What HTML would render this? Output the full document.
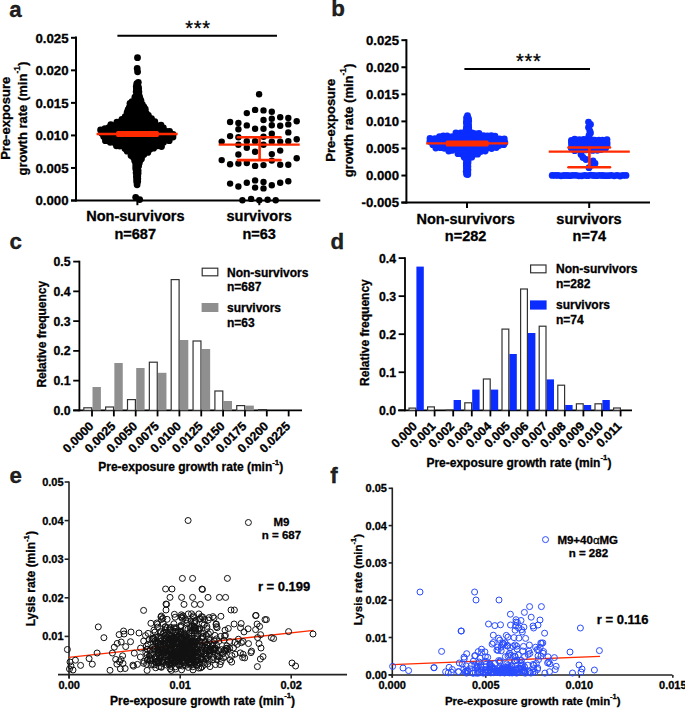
<!DOCTYPE html>
<html><head><meta charset="utf-8"><style>
html,body{margin:0;padding:0;background:#fff;}
svg{display:block;}
text{font-family:"Liberation Sans",sans-serif;font-weight:bold;stroke:currentColor;stroke-width:0.3px;}
</style></head><body>
<svg width="685" height="708" viewBox="0 0 685 708">
<text x="9.2" y="16.5" font-size="22.3" text-anchor="start" fill="#222" stroke="#222" stroke-width="0.35">a</text>
<text x="331.2" y="16.4" font-size="22.3" text-anchor="start" fill="#222" stroke="#222" stroke-width="0.35">b</text>
<text x="9.4" y="249.4" font-size="22.3" text-anchor="start" fill="#222" stroke="#222" stroke-width="0.35">c</text>
<text x="330.6" y="249.2" font-size="22.3" text-anchor="start" fill="#222" stroke="#222" stroke-width="0.35">d</text>
<text x="9.4" y="483.1" font-size="22.3" text-anchor="start" fill="#222" stroke="#222" stroke-width="0.35">e</text>
<text x="330.2" y="483" font-size="22.3" text-anchor="start" fill="#222" stroke="#222" stroke-width="0.35">f</text>
<line x1="76" y1="36.5" x2="76" y2="201.5" stroke="#000" stroke-width="2" stroke-linecap="butt"/>
<line x1="71" y1="200.5" x2="76" y2="200.5" stroke="#000" stroke-width="2" stroke-linecap="butt"/>
<text x="68.6" y="205.25" font-size="13.25" text-anchor="end" fill="#000" >0.000</text>
<line x1="71" y1="167.96" x2="76" y2="167.96" stroke="#000" stroke-width="2" stroke-linecap="butt"/>
<text x="68.6" y="172.71" font-size="13.25" text-anchor="end" fill="#000" >0.005</text>
<line x1="71" y1="135.42" x2="76" y2="135.42" stroke="#000" stroke-width="2" stroke-linecap="butt"/>
<text x="68.6" y="140.17" font-size="13.25" text-anchor="end" fill="#000" >0.010</text>
<line x1="71" y1="102.88" x2="76" y2="102.88" stroke="#000" stroke-width="2" stroke-linecap="butt"/>
<text x="68.6" y="107.63" font-size="13.25" text-anchor="end" fill="#000" >0.015</text>
<line x1="71" y1="70.34" x2="76" y2="70.34" stroke="#000" stroke-width="2" stroke-linecap="butt"/>
<text x="68.6" y="75.09" font-size="13.25" text-anchor="end" fill="#000" >0.020</text>
<line x1="71" y1="37.8" x2="76" y2="37.8" stroke="#000" stroke-width="2" stroke-linecap="butt"/>
<text x="68.6" y="42.55" font-size="13.25" text-anchor="end" fill="#000" >0.025</text>
<line x1="71" y1="200.6" x2="320.3" y2="200.6" stroke="#000" stroke-width="2" stroke-linecap="butt"/>
<line x1="137.4" y1="200.6" x2="137.4" y2="205.2" stroke="#000" stroke-width="2" stroke-linecap="butt"/>
<line x1="259.3" y1="200.6" x2="259.3" y2="205.2" stroke="#000" stroke-width="2" stroke-linecap="butt"/>
<text x="135.4" y="221.4" font-size="14.5" text-anchor="middle" fill="#000" >Non-survivors</text>
<text x="135.2" y="238.6" font-size="14.5" text-anchor="middle" fill="#000" >n=687</text>
<text x="259.2" y="221.4" font-size="14.5" text-anchor="middle" fill="#000" >survivors</text>
<text x="259.2" y="238.6" font-size="14.5" text-anchor="middle" fill="#000" >n=63</text>
<text transform="translate(9.8,118.3) rotate(-90)" font-size="13" text-anchor="middle" >Pre-exposure</text>
<text transform="translate(27.1,118.6) rotate(-90)" font-size="13" text-anchor="middle" >growth rate (min<tspan font-size="0.65em" dy="-0.8em">-1</tspan><tspan dy="0.52em">)</tspan></text>
<line x1="117.4" y1="35.8" x2="277" y2="35.8" stroke="#000" stroke-width="2" stroke-linecap="butt"/>
<text x="198" y="34.6" font-size="20" letter-spacing="0.7" text-anchor="middle" style="font-weight:normal">***</text>
<g fill="#000"><circle cx="136.8" cy="83.6" r="3.4"/><circle cx="138.3" cy="82.3" r="3.4"/><circle cx="136.3" cy="86.5" r="3.4"/><circle cx="138.2" cy="86.4" r="3.4"/><circle cx="136.4" cy="88.8" r="3.4"/><circle cx="138.6" cy="88.4" r="3.4"/><circle cx="136.2" cy="91.7" r="3.4"/><circle cx="138.9" cy="91.9" r="3.4"/><circle cx="136.6" cy="95.4" r="3.4"/><circle cx="139.2" cy="95.7" r="3.4"/><circle cx="134.9" cy="97.2" r="3.4"/><circle cx="137.7" cy="97.0" r="3.4"/><circle cx="139.8" cy="97.9" r="3.4"/><circle cx="132.0" cy="101.6" r="3.4"/><circle cx="135.2" cy="100.9" r="3.4"/><circle cx="138.1" cy="100.4" r="3.4"/><circle cx="140.9" cy="100.3" r="3.4"/><circle cx="130.0" cy="103.3" r="3.4"/><circle cx="133.9" cy="102.9" r="3.4"/><circle cx="138.9" cy="103.2" r="3.4"/><circle cx="142.3" cy="104.5" r="3.4"/><circle cx="129.3" cy="107.5" r="3.4"/><circle cx="133.2" cy="107.3" r="3.4"/><circle cx="135.9" cy="106.9" r="3.4"/><circle cx="140.3" cy="107.5" r="3.4"/><circle cx="143.9" cy="107.0" r="3.4"/><circle cx="128.1" cy="109.6" r="3.4"/><circle cx="131.3" cy="109.2" r="3.4"/><circle cx="135.6" cy="109.6" r="3.4"/><circle cx="139.3" cy="110.0" r="3.4"/><circle cx="142.0" cy="110.1" r="3.4"/><circle cx="145.3" cy="109.2" r="3.4"/><circle cx="127.1" cy="112.4" r="3.4"/><circle cx="130.8" cy="112.1" r="3.4"/><circle cx="135.7" cy="112.3" r="3.4"/><circle cx="139.0" cy="112.5" r="3.4"/><circle cx="143.2" cy="113.1" r="3.4"/><circle cx="146.3" cy="113.5" r="3.4"/><circle cx="125.2" cy="116.6" r="3.4"/><circle cx="129.1" cy="115.2" r="3.4"/><circle cx="132.3" cy="116.6" r="3.4"/><circle cx="136.8" cy="115.3" r="3.4"/><circle cx="141.3" cy="116.1" r="3.4"/><circle cx="144.6" cy="115.6" r="3.4"/><circle cx="148.4" cy="115.4" r="3.4"/><circle cx="121.9" cy="119.5" r="3.4"/><circle cx="126.2" cy="118.9" r="3.4"/><circle cx="130.1" cy="119.3" r="3.4"/><circle cx="133.8" cy="118.6" r="3.4"/><circle cx="138.0" cy="118.2" r="3.4"/><circle cx="143.8" cy="119.1" r="3.4"/><circle cx="147.0" cy="118.9" r="3.4"/><circle cx="151.5" cy="118.6" r="3.4"/><circle cx="116.9" cy="122.2" r="3.4"/><circle cx="120.4" cy="121.9" r="3.4"/><circle cx="125.0" cy="122.6" r="3.4"/><circle cx="127.7" cy="122.6" r="3.4"/><circle cx="131.2" cy="122.3" r="3.4"/><circle cx="136.5" cy="121.2" r="3.4"/><circle cx="139.6" cy="122.4" r="3.4"/><circle cx="142.6" cy="122.1" r="3.4"/><circle cx="147.8" cy="121.9" r="3.4"/><circle cx="151.5" cy="121.3" r="3.4"/><circle cx="154.8" cy="121.6" r="3.4"/><circle cx="110.8" cy="124.6" r="3.4"/><circle cx="115.9" cy="125.0" r="3.4"/><circle cx="118.9" cy="124.4" r="3.4"/><circle cx="124.2" cy="124.7" r="3.4"/><circle cx="128.4" cy="124.9" r="3.4"/><circle cx="131.8" cy="125.6" r="3.4"/><circle cx="136.3" cy="125.0" r="3.4"/><circle cx="139.9" cy="125.5" r="3.4"/><circle cx="144.1" cy="125.6" r="3.4"/><circle cx="147.6" cy="124.7" r="3.4"/><circle cx="152.6" cy="125.7" r="3.4"/><circle cx="156.3" cy="125.4" r="3.4"/><circle cx="161.0" cy="125.2" r="3.4"/><circle cx="105.0" cy="128.7" r="3.4"/><circle cx="108.8" cy="127.7" r="3.4"/><circle cx="112.8" cy="127.0" r="3.4"/><circle cx="117.0" cy="128.6" r="3.4"/><circle cx="122.3" cy="127.1" r="3.4"/><circle cx="126.0" cy="127.8" r="3.4"/><circle cx="130.1" cy="128.1" r="3.4"/><circle cx="133.8" cy="128.7" r="3.4"/><circle cx="138.2" cy="128.1" r="3.4"/><circle cx="142.7" cy="127.3" r="3.4"/><circle cx="145.8" cy="127.7" r="3.4"/><circle cx="151.3" cy="128.4" r="3.4"/><circle cx="155.4" cy="127.1" r="3.4"/><circle cx="159.9" cy="128.4" r="3.4"/><circle cx="163.4" cy="127.9" r="3.4"/><circle cx="100.6" cy="130.0" r="3.4"/><circle cx="103.7" cy="130.0" r="3.4"/><circle cx="108.1" cy="130.4" r="3.4"/><circle cx="112.1" cy="131.0" r="3.4"/><circle cx="115.9" cy="131.0" r="3.4"/><circle cx="120.2" cy="131.2" r="3.4"/><circle cx="124.0" cy="130.5" r="3.4"/><circle cx="129.8" cy="130.9" r="3.4"/><circle cx="133.6" cy="131.1" r="3.4"/><circle cx="137.3" cy="130.3" r="3.4"/><circle cx="141.3" cy="130.0" r="3.4"/><circle cx="145.8" cy="131.7" r="3.4"/><circle cx="150.0" cy="130.0" r="3.4"/><circle cx="153.1" cy="130.5" r="3.4"/><circle cx="156.8" cy="131.1" r="3.4"/><circle cx="162.1" cy="130.5" r="3.4"/><circle cx="166.3" cy="131.4" r="3.4"/><circle cx="169.6" cy="131.3" r="3.4"/><circle cx="101.7" cy="133.3" r="3.4"/><circle cx="105.7" cy="134.1" r="3.4"/><circle cx="109.7" cy="133.1" r="3.4"/><circle cx="113.8" cy="134.1" r="3.4"/><circle cx="118.1" cy="134.4" r="3.4"/><circle cx="121.2" cy="134.2" r="3.4"/><circle cx="126.1" cy="134.5" r="3.4"/><circle cx="128.8" cy="133.0" r="3.4"/><circle cx="133.7" cy="133.3" r="3.4"/><circle cx="137.5" cy="134.6" r="3.4"/><circle cx="141.2" cy="133.4" r="3.4"/><circle cx="145.3" cy="134.1" r="3.4"/><circle cx="148.6" cy="133.6" r="3.4"/><circle cx="152.7" cy="134.1" r="3.4"/><circle cx="157.9" cy="133.6" r="3.4"/><circle cx="161.1" cy="133.9" r="3.4"/><circle cx="164.8" cy="133.4" r="3.4"/><circle cx="169.0" cy="133.8" r="3.4"/><circle cx="173.1" cy="134.3" r="3.4"/><circle cx="103.7" cy="136.5" r="3.4"/><circle cx="106.9" cy="137.3" r="3.4"/><circle cx="111.1" cy="136.2" r="3.4"/><circle cx="115.2" cy="136.1" r="3.4"/><circle cx="120.7" cy="136.4" r="3.4"/><circle cx="123.6" cy="137.4" r="3.4"/><circle cx="128.3" cy="136.3" r="3.4"/><circle cx="132.0" cy="137.5" r="3.4"/><circle cx="136.0" cy="137.2" r="3.4"/><circle cx="139.6" cy="137.2" r="3.4"/><circle cx="144.9" cy="137.4" r="3.4"/><circle cx="148.7" cy="136.6" r="3.4"/><circle cx="151.7" cy="136.9" r="3.4"/><circle cx="157.0" cy="136.3" r="3.4"/><circle cx="160.2" cy="136.9" r="3.4"/><circle cx="165.2" cy="137.6" r="3.4"/><circle cx="168.1" cy="136.3" r="3.4"/><circle cx="173.0" cy="137.1" r="3.4"/><circle cx="105.4" cy="140.7" r="3.4"/><circle cx="110.1" cy="140.5" r="3.4"/><circle cx="113.8" cy="139.7" r="3.4"/><circle cx="117.6" cy="139.3" r="3.4"/><circle cx="121.8" cy="140.3" r="3.4"/><circle cx="125.7" cy="139.7" r="3.4"/><circle cx="129.1" cy="139.7" r="3.4"/><circle cx="132.5" cy="140.5" r="3.4"/><circle cx="137.4" cy="139.6" r="3.4"/><circle cx="141.4" cy="140.2" r="3.4"/><circle cx="145.1" cy="140.4" r="3.4"/><circle cx="150.1" cy="139.6" r="3.4"/><circle cx="152.7" cy="140.3" r="3.4"/><circle cx="158.2" cy="139.2" r="3.4"/><circle cx="161.7" cy="140.4" r="3.4"/><circle cx="166.1" cy="139.2" r="3.4"/><circle cx="169.2" cy="140.7" r="3.4"/><circle cx="110.2" cy="142.3" r="3.4"/><circle cx="114.6" cy="142.7" r="3.4"/><circle cx="119.1" cy="142.3" r="3.4"/><circle cx="123.5" cy="142.3" r="3.4"/><circle cx="127.3" cy="142.1" r="3.4"/><circle cx="130.9" cy="142.0" r="3.4"/><circle cx="134.7" cy="142.5" r="3.4"/><circle cx="139.5" cy="142.8" r="3.4"/><circle cx="142.5" cy="143.7" r="3.4"/><circle cx="148.1" cy="143.6" r="3.4"/><circle cx="151.0" cy="142.6" r="3.4"/><circle cx="155.1" cy="142.2" r="3.4"/><circle cx="158.8" cy="142.8" r="3.4"/><circle cx="163.6" cy="142.3" r="3.4"/><circle cx="116.4" cy="145.8" r="3.4"/><circle cx="119.8" cy="146.1" r="3.4"/><circle cx="124.1" cy="145.9" r="3.4"/><circle cx="128.2" cy="145.9" r="3.4"/><circle cx="133.0" cy="145.9" r="3.4"/><circle cx="136.6" cy="146.4" r="3.4"/><circle cx="141.6" cy="145.3" r="3.4"/><circle cx="144.4" cy="145.1" r="3.4"/><circle cx="150.0" cy="146.6" r="3.4"/><circle cx="152.8" cy="146.7" r="3.4"/><circle cx="156.9" cy="145.9" r="3.4"/><circle cx="161.5" cy="146.6" r="3.4"/><circle cx="124.9" cy="148.5" r="3.4"/><circle cx="129.3" cy="148.1" r="3.4"/><circle cx="132.7" cy="148.8" r="3.4"/><circle cx="138.0" cy="149.3" r="3.4"/><circle cx="142.0" cy="149.3" r="3.4"/><circle cx="145.9" cy="149.5" r="3.4"/><circle cx="149.9" cy="149.3" r="3.4"/><circle cx="153.6" cy="148.2" r="3.4"/><circle cx="127.2" cy="151.2" r="3.4"/><circle cx="132.0" cy="152.0" r="3.4"/><circle cx="135.1" cy="152.6" r="3.4"/><circle cx="138.9" cy="151.9" r="3.4"/><circle cx="142.9" cy="152.7" r="3.4"/><circle cx="147.8" cy="152.4" r="3.4"/><circle cx="131.0" cy="155.4" r="3.4"/><circle cx="134.6" cy="155.1" r="3.4"/><circle cx="138.3" cy="154.7" r="3.4"/><circle cx="140.5" cy="155.2" r="3.4"/><circle cx="143.9" cy="154.5" r="3.4"/><circle cx="133.3" cy="157.3" r="3.4"/><circle cx="136.1" cy="158.3" r="3.4"/><circle cx="138.1" cy="158.3" r="3.4"/><circle cx="141.5" cy="158.7" r="3.4"/><circle cx="134.7" cy="160.7" r="3.4"/><circle cx="137.8" cy="160.9" r="3.4"/><circle cx="140.3" cy="160.1" r="3.4"/><circle cx="135.7" cy="163.9" r="3.4"/><circle cx="139.3" cy="163.0" r="3.4"/><circle cx="135.7" cy="167.1" r="3.4"/><circle cx="138.6" cy="166.1" r="3.4"/><circle cx="135.9" cy="169.3" r="3.4"/><circle cx="138.1" cy="170.5" r="3.4"/><circle cx="136.1" cy="172.8" r="3.4"/><circle cx="138.1" cy="173.2" r="3.4"/><circle cx="136.4" cy="176.4" r="3.4"/><circle cx="137.8" cy="176.1" r="3.4"/><circle cx="136.7" cy="179.2" r="3.4"/><circle cx="137.8" cy="178.7" r="3.4"/><circle cx="136.7" cy="181.7" r="3.4"/><circle cx="137.7" cy="181.6" r="3.4"/><circle cx="137.1" cy="184.8" r="3.4"/><circle cx="137.5" cy="57.7" r="3.4"/><circle cx="137.2" cy="68.4" r="3.4"/><circle cx="137.6" cy="71.8" r="3.4"/><circle cx="135.7" cy="197.3" r="3.4"/><circle cx="139.7" cy="199.6" r="3.4"/></g>
<line x1="96.6" y1="134" x2="177.6" y2="134" stroke="#ff2a00" stroke-width="2.4" stroke-linecap="butt"/>
<rect x="116.2" y="130.95" width="42.6" height="6.1" rx="1.5" fill="#ff2a00"/>
<g fill="#000"><circle cx="259.1" cy="94.2" r="3.2"/><circle cx="246.8" cy="113.1" r="3.2"/><circle cx="255.1" cy="109.9" r="3.2"/><circle cx="263.5" cy="110.4" r="3.2"/><circle cx="271.8" cy="111.8" r="3.2"/><circle cx="230.1" cy="122" r="3.2"/><circle cx="238.4" cy="122.9" r="3.2"/><circle cx="246.8" cy="125.4" r="3.2"/><circle cx="263.5" cy="120" r="3.2"/><circle cx="271.8" cy="118.8" r="3.2"/><circle cx="280.2" cy="117.2" r="3.2"/><circle cx="288.3" cy="118" r="3.2"/><circle cx="296.7" cy="121.2" r="3.2"/><circle cx="238.4" cy="129.2" r="3.2"/><circle cx="255.1" cy="128.7" r="3.2"/><circle cx="263.5" cy="128.7" r="3.2"/><circle cx="271.8" cy="125.2" r="3.2"/><circle cx="280.2" cy="125.7" r="3.2"/><circle cx="288.3" cy="124.4" r="3.2"/><circle cx="230.1" cy="136.1" r="3.2"/><circle cx="238.4" cy="137.3" r="3.2"/><circle cx="263.5" cy="136.8" r="3.2"/><circle cx="271.8" cy="133.7" r="3.2"/><circle cx="288.3" cy="132.4" r="3.2"/><circle cx="221.7" cy="141.6" r="3.2"/><circle cx="246.8" cy="141.3" r="3.2"/><circle cx="255.1" cy="141.3" r="3.2"/><circle cx="271.8" cy="141.6" r="3.2"/><circle cx="280.2" cy="141.6" r="3.2"/><circle cx="288.3" cy="141.3" r="3.2"/><circle cx="296.7" cy="139.2" r="3.2"/><circle cx="238.4" cy="144.8" r="3.2"/><circle cx="263.5" cy="144.8" r="3.2"/><circle cx="246.8" cy="147.7" r="3.2"/><circle cx="255.1" cy="151.7" r="3.2"/><circle cx="280.2" cy="150.6" r="3.2"/><circle cx="238.4" cy="154.5" r="3.2"/><circle cx="271.8" cy="154.1" r="3.2"/><circle cx="221.7" cy="160.1" r="3.2"/><circle cx="296.7" cy="158.2" r="3.2"/><circle cx="271.8" cy="160.6" r="3.2"/><circle cx="230.1" cy="164.3" r="3.2"/><circle cx="238.4" cy="163.5" r="3.2"/><circle cx="246.8" cy="163" r="3.2"/><circle cx="255.1" cy="165.9" r="3.2"/><circle cx="263.5" cy="165.1" r="3.2"/><circle cx="280.2" cy="164.8" r="3.2"/><circle cx="288.3" cy="164.8" r="3.2"/><circle cx="230.1" cy="183.6" r="3.2"/><circle cx="238.4" cy="186.5" r="3.2"/><circle cx="246.8" cy="182.8" r="3.2"/><circle cx="255.1" cy="180.4" r="3.2"/><circle cx="263.5" cy="182" r="3.2"/><circle cx="255.1" cy="187.6" r="3.2"/><circle cx="263.5" cy="188.4" r="3.2"/><circle cx="271.8" cy="185.2" r="3.2"/><circle cx="280.2" cy="182.8" r="3.2"/><circle cx="288.3" cy="181.2" r="3.2"/><circle cx="242.4" cy="200.3" r="3.2"/><circle cx="251.1" cy="198.9" r="3.2"/><circle cx="259.3" cy="200.3" r="3.2"/><circle cx="267.6" cy="199.7" r="3.2"/><circle cx="275.7" cy="200.3" r="3.2"/></g>
<line x1="218.7" y1="144.6" x2="299.7" y2="144.6" stroke="#ff2a00" stroke-width="2.2" stroke-linecap="butt"/>
<line x1="259.6" y1="137.3" x2="259.6" y2="160.1" stroke="#ff2a00" stroke-width="2.6" stroke-linecap="butt"/>
<line x1="237.9" y1="137.3" x2="280.5" y2="137.3" stroke="#ff2a00" stroke-width="2.6" stroke-linecap="round"/>
<line x1="237.9" y1="160.1" x2="280.5" y2="160.1" stroke="#ff2a00" stroke-width="2.6" stroke-linecap="round"/>
<line x1="406.4" y1="39.2" x2="406.4" y2="203.6" stroke="#000" stroke-width="2" stroke-linecap="butt"/>
<line x1="401.4" y1="202.6" x2="406.4" y2="202.6" stroke="#000" stroke-width="2" stroke-linecap="butt"/>
<text x="399" y="207.35" font-size="13.2" text-anchor="end" fill="#000" >-0.005</text>
<line x1="401.4" y1="175.53" x2="406.4" y2="175.53" stroke="#000" stroke-width="2" stroke-linecap="butt"/>
<text x="399" y="180.28" font-size="13.2" text-anchor="end" fill="#000" >0.000</text>
<line x1="401.4" y1="148.46" x2="406.4" y2="148.46" stroke="#000" stroke-width="2" stroke-linecap="butt"/>
<text x="399" y="153.21" font-size="13.2" text-anchor="end" fill="#000" >0.005</text>
<line x1="401.4" y1="121.39" x2="406.4" y2="121.39" stroke="#000" stroke-width="2" stroke-linecap="butt"/>
<text x="399" y="126.14" font-size="13.2" text-anchor="end" fill="#000" >0.010</text>
<line x1="401.4" y1="94.32" x2="406.4" y2="94.32" stroke="#000" stroke-width="2" stroke-linecap="butt"/>
<text x="399" y="99.07" font-size="13.2" text-anchor="end" fill="#000" >0.015</text>
<line x1="401.4" y1="67.25" x2="406.4" y2="67.25" stroke="#000" stroke-width="2" stroke-linecap="butt"/>
<text x="399" y="72" font-size="13.2" text-anchor="end" fill="#000" >0.020</text>
<line x1="401.4" y1="40.18" x2="406.4" y2="40.18" stroke="#000" stroke-width="2" stroke-linecap="butt"/>
<text x="399" y="44.93" font-size="13.2" text-anchor="end" fill="#000" >0.025</text>
<line x1="401.4" y1="202.6" x2="650" y2="202.6" stroke="#000" stroke-width="2" stroke-linecap="butt"/>
<line x1="467" y1="202.6" x2="467" y2="208" stroke="#000" stroke-width="2" stroke-linecap="butt"/>
<line x1="589.2" y1="202.6" x2="589.2" y2="208" stroke="#000" stroke-width="2" stroke-linecap="butt"/>
<text x="465.6" y="223.6" font-size="14.5" text-anchor="middle" fill="#000" >Non-survivors</text>
<text x="465.6" y="240.6" font-size="14.5" text-anchor="middle" fill="#000" >n=282</text>
<text x="589" y="223.6" font-size="14.5" text-anchor="middle" fill="#000" >survivors</text>
<text x="589.3" y="240.5" font-size="14.5" text-anchor="middle" fill="#000" >n=74</text>
<text transform="translate(335.4,120.2) rotate(-90)" font-size="13" text-anchor="middle" >Pre-exposure</text>
<text transform="translate(352.6,120.5) rotate(-90)" font-size="13" text-anchor="middle" >growth rate (min<tspan font-size="0.65em" dy="-0.8em">-1</tspan><tspan dy="0.52em">)</tspan></text>
<line x1="464.4" y1="69" x2="590" y2="69" stroke="#000" stroke-width="2" stroke-linecap="butt"/>
<text x="528.8" y="67.6" font-size="20" letter-spacing="0.7" text-anchor="middle" style="font-weight:normal">***</text>
<g fill="#0a2cff"><circle cx="466.5" cy="118.0" r="3.4"/><circle cx="468.5" cy="118.6" r="3.4"/><circle cx="466.4" cy="121.7" r="3.4"/><circle cx="468.7" cy="120.9" r="3.4"/><circle cx="466.5" cy="123.2" r="3.4"/><circle cx="468.6" cy="124.7" r="3.4"/><circle cx="466.4" cy="127.1" r="3.4"/><circle cx="468.7" cy="127.4" r="3.4"/><circle cx="466.1" cy="129.9" r="3.4"/><circle cx="468.8" cy="129.7" r="3.4"/><circle cx="455.9" cy="132.9" r="3.4"/><circle cx="460.7" cy="132.8" r="3.4"/><circle cx="463.6" cy="132.8" r="3.4"/><circle cx="467.6" cy="133.8" r="3.4"/><circle cx="472.0" cy="132.8" r="3.4"/><circle cx="474.8" cy="133.7" r="3.4"/><circle cx="479.0" cy="133.4" r="3.4"/><circle cx="439.5" cy="136.7" r="3.4"/><circle cx="443.3" cy="136.0" r="3.4"/><circle cx="447.1" cy="135.9" r="3.4"/><circle cx="452.1" cy="136.6" r="3.4"/><circle cx="455.5" cy="136.5" r="3.4"/><circle cx="459.4" cy="135.8" r="3.4"/><circle cx="463.5" cy="135.5" r="3.4"/><circle cx="467.0" cy="136.4" r="3.4"/><circle cx="471.8" cy="135.2" r="3.4"/><circle cx="475.7" cy="136.6" r="3.4"/><circle cx="479.1" cy="135.3" r="3.4"/><circle cx="483.5" cy="135.6" r="3.4"/><circle cx="487.4" cy="135.8" r="3.4"/><circle cx="491.3" cy="135.6" r="3.4"/><circle cx="495.0" cy="136.1" r="3.4"/><circle cx="430.0" cy="138.5" r="3.4"/><circle cx="434.9" cy="138.7" r="3.4"/><circle cx="437.9" cy="138.6" r="3.4"/><circle cx="441.6" cy="138.9" r="3.4"/><circle cx="447.0" cy="139.4" r="3.4"/><circle cx="450.1" cy="138.4" r="3.4"/><circle cx="454.5" cy="139.5" r="3.4"/><circle cx="458.9" cy="139.8" r="3.4"/><circle cx="463.4" cy="139.3" r="3.4"/><circle cx="467.7" cy="139.5" r="3.4"/><circle cx="471.1" cy="138.6" r="3.4"/><circle cx="475.4" cy="139.0" r="3.4"/><circle cx="479.0" cy="138.9" r="3.4"/><circle cx="484.0" cy="138.4" r="3.4"/><circle cx="487.3" cy="138.5" r="3.4"/><circle cx="491.7" cy="139.9" r="3.4"/><circle cx="495.3" cy="138.5" r="3.4"/><circle cx="499.7" cy="139.0" r="3.4"/><circle cx="504.3" cy="139.0" r="3.4"/><circle cx="429.9" cy="141.6" r="3.4"/><circle cx="434.7" cy="141.5" r="3.4"/><circle cx="438.5" cy="141.9" r="3.4"/><circle cx="442.3" cy="142.6" r="3.4"/><circle cx="446.0" cy="142.8" r="3.4"/><circle cx="451.5" cy="142.3" r="3.4"/><circle cx="454.2" cy="142.3" r="3.4"/><circle cx="459.3" cy="142.5" r="3.4"/><circle cx="462.8" cy="142.9" r="3.4"/><circle cx="468.2" cy="141.3" r="3.4"/><circle cx="471.3" cy="141.2" r="3.4"/><circle cx="476.4" cy="142.8" r="3.4"/><circle cx="480.8" cy="142.2" r="3.4"/><circle cx="484.4" cy="142.4" r="3.4"/><circle cx="488.4" cy="142.9" r="3.4"/><circle cx="492.7" cy="141.7" r="3.4"/><circle cx="496.6" cy="141.2" r="3.4"/><circle cx="501.2" cy="142.4" r="3.4"/><circle cx="504.9" cy="142.7" r="3.4"/><circle cx="432.8" cy="144.7" r="3.4"/><circle cx="436.1" cy="144.4" r="3.4"/><circle cx="440.5" cy="144.7" r="3.4"/><circle cx="445.1" cy="145.8" r="3.4"/><circle cx="449.0" cy="145.8" r="3.4"/><circle cx="453.9" cy="145.7" r="3.4"/><circle cx="457.6" cy="144.1" r="3.4"/><circle cx="462.5" cy="144.6" r="3.4"/><circle cx="465.5" cy="145.6" r="3.4"/><circle cx="470.6" cy="144.5" r="3.4"/><circle cx="474.1" cy="145.8" r="3.4"/><circle cx="478.2" cy="145.4" r="3.4"/><circle cx="482.2" cy="145.6" r="3.4"/><circle cx="486.3" cy="145.1" r="3.4"/><circle cx="490.3" cy="145.1" r="3.4"/><circle cx="496.0" cy="144.3" r="3.4"/><circle cx="499.1" cy="145.5" r="3.4"/><circle cx="503.7" cy="144.7" r="3.4"/><circle cx="435.8" cy="148.0" r="3.4"/><circle cx="440.5" cy="147.7" r="3.4"/><circle cx="444.3" cy="148.3" r="3.4"/><circle cx="448.3" cy="147.8" r="3.4"/><circle cx="452.3" cy="148.4" r="3.4"/><circle cx="455.7" cy="147.2" r="3.4"/><circle cx="460.7" cy="148.4" r="3.4"/><circle cx="463.4" cy="148.5" r="3.4"/><circle cx="467.5" cy="148.0" r="3.4"/><circle cx="472.6" cy="147.9" r="3.4"/><circle cx="475.6" cy="147.7" r="3.4"/><circle cx="479.2" cy="147.5" r="3.4"/><circle cx="483.6" cy="147.5" r="3.4"/><circle cx="487.3" cy="148.0" r="3.4"/><circle cx="491.6" cy="148.5" r="3.4"/><circle cx="496.3" cy="147.6" r="3.4"/><circle cx="448.7" cy="151.1" r="3.4"/><circle cx="451.9" cy="150.4" r="3.4"/><circle cx="457.5" cy="151.0" r="3.4"/><circle cx="461.4" cy="150.3" r="3.4"/><circle cx="465.0" cy="151.7" r="3.4"/><circle cx="469.6" cy="150.2" r="3.4"/><circle cx="473.0" cy="150.8" r="3.4"/><circle cx="477.5" cy="150.3" r="3.4"/><circle cx="480.7" cy="151.6" r="3.4"/><circle cx="485.2" cy="151.0" r="3.4"/><circle cx="458.0" cy="153.7" r="3.4"/><circle cx="461.0" cy="153.8" r="3.4"/><circle cx="465.1" cy="153.3" r="3.4"/><circle cx="469.9" cy="154.9" r="3.4"/><circle cx="473.9" cy="154.3" r="3.4"/><circle cx="477.6" cy="154.2" r="3.4"/><circle cx="464.2" cy="157.2" r="3.4"/><circle cx="468.5" cy="157.1" r="3.4"/><circle cx="471.7" cy="157.2" r="3.4"/><circle cx="466.3" cy="159.4" r="3.4"/><circle cx="468.1" cy="160.6" r="3.4"/><circle cx="466.3" cy="163.1" r="3.4"/><circle cx="468.0" cy="162.9" r="3.4"/><circle cx="466.3" cy="165.8" r="3.4"/><circle cx="467.9" cy="166.4" r="3.4"/><circle cx="466.4" cy="168.3" r="3.4"/><circle cx="468.0" cy="169.8" r="3.4"/><circle cx="466.2" cy="171.6" r="3.4"/><circle cx="467.8" cy="172.7" r="3.4"/><circle cx="466.6" cy="174.2" r="3.4"/><circle cx="467.8" cy="174.5" r="3.4"/><circle cx="467.5" cy="115.6" r="3.4"/></g>
<line x1="426.2" y1="143.4" x2="508" y2="143.4" stroke="#ff2a00" stroke-width="2.2" stroke-linecap="butt"/>
<rect x="445.7" y="140.4" width="43" height="6" rx="1.5" fill="#ff2a00"/>
<g fill="#0a2cff"><circle cx="571.4" cy="140.3" r="3.4"/><circle cx="574.7" cy="139.1" r="3.4"/><circle cx="579.3" cy="139.7" r="3.4"/><circle cx="583.7" cy="139.5" r="3.4"/><circle cx="586.7" cy="139.4" r="3.4"/><circle cx="592.0" cy="140.0" r="3.4"/><circle cx="594.6" cy="140.1" r="3.4"/><circle cx="598.9" cy="140.1" r="3.4"/><circle cx="602.4" cy="140.2" r="3.4"/><circle cx="607.0" cy="139.6" r="3.4"/><circle cx="571.5" cy="142.3" r="3.4"/><circle cx="574.8" cy="141.7" r="3.4"/><circle cx="579.0" cy="141.5" r="3.4"/><circle cx="582.8" cy="141.6" r="3.4"/><circle cx="587.2" cy="142.0" r="3.4"/><circle cx="591.4" cy="141.9" r="3.4"/><circle cx="594.5" cy="142.0" r="3.4"/><circle cx="599.6" cy="141.8" r="3.4"/><circle cx="603.0" cy="142.6" r="3.4"/><circle cx="607.1" cy="142.9" r="3.4"/><circle cx="571.6" cy="144.5" r="3.4"/><circle cx="575.7" cy="144.4" r="3.4"/><circle cx="578.8" cy="144.7" r="3.4"/><circle cx="583.5" cy="145.5" r="3.4"/><circle cx="586.7" cy="145.2" r="3.4"/><circle cx="591.2" cy="144.3" r="3.4"/><circle cx="596.0" cy="145.2" r="3.4"/><circle cx="598.6" cy="145.5" r="3.4"/><circle cx="602.5" cy="144.2" r="3.4"/><circle cx="607.0" cy="145.5" r="3.4"/><circle cx="571.2" cy="148.1" r="3.4"/><circle cx="575.4" cy="146.7" r="3.4"/><circle cx="579.1" cy="147.4" r="3.4"/><circle cx="582.8" cy="147.8" r="3.4"/><circle cx="586.8" cy="148.2" r="3.4"/><circle cx="589.7" cy="147.9" r="3.4"/><circle cx="593.9" cy="147.9" r="3.4"/><circle cx="598.5" cy="148.2" r="3.4"/><circle cx="601.3" cy="147.4" r="3.4"/><circle cx="605.6" cy="148.2" r="3.4"/><circle cx="574.7" cy="150.7" r="3.4"/><circle cx="578.4" cy="149.8" r="3.4"/><circle cx="582.7" cy="150.0" r="3.4"/><circle cx="585.9" cy="149.9" r="3.4"/><circle cx="589.6" cy="149.5" r="3.4"/><circle cx="592.7" cy="150.4" r="3.4"/><circle cx="597.3" cy="150.3" r="3.4"/><circle cx="601.0" cy="149.6" r="3.4"/><circle cx="589.8" cy="131.0" r="3.4"/><circle cx="590.5" cy="133.0" r="3.4"/><circle cx="589.0" cy="135.3" r="3.4"/><circle cx="588.5" cy="127.5" r="3.4"/><circle cx="590.5" cy="124.5" r="3.4"/><circle cx="588.5" cy="122.1" r="3.4"/><circle cx="581.0" cy="154.5" r="3.4"/><circle cx="583.0" cy="157.5" r="3.4"/><circle cx="586.0" cy="159.5" r="3.4"/><circle cx="593.0" cy="161.0" r="3.4"/><circle cx="595.0" cy="163.5" r="3.4"/><circle cx="592.0" cy="165.0" r="3.4"/><circle cx="589.0" cy="167.7" r="3.4"/><circle cx="552.2" cy="175.4" r="3.4"/><circle cx="555.2" cy="175.4" r="3.4"/><circle cx="558.1" cy="175.4" r="3.4"/><circle cx="561.1" cy="175.8" r="3.4"/><circle cx="564.0" cy="175.5" r="3.4"/><circle cx="567.0" cy="175.5" r="3.4"/><circle cx="569.9" cy="175.7" r="3.4"/><circle cx="572.9" cy="175.3" r="3.4"/><circle cx="575.8" cy="175.3" r="3.4"/><circle cx="578.8" cy="175.8" r="3.4"/><circle cx="581.7" cy="175.8" r="3.4"/><circle cx="584.7" cy="175.4" r="3.4"/><circle cx="587.6" cy="175.7" r="3.4"/><circle cx="590.6" cy="175.2" r="3.4"/><circle cx="593.5" cy="175.5" r="3.4"/><circle cx="596.5" cy="175.7" r="3.4"/><circle cx="599.4" cy="175.4" r="3.4"/><circle cx="602.4" cy="175.5" r="3.4"/><circle cx="605.3" cy="175.7" r="3.4"/><circle cx="608.3" cy="175.7" r="3.4"/><circle cx="611.2" cy="175.3" r="3.4"/><circle cx="614.2" cy="175.8" r="3.4"/><circle cx="617.1" cy="175.3" r="3.4"/><circle cx="620.1" cy="176.0" r="3.4"/><circle cx="623.0" cy="175.4" r="3.4"/><circle cx="626.0" cy="175.4" r="3.4"/></g>
<line x1="548.7" y1="151.7" x2="629.8" y2="151.7" stroke="#ff2a00" stroke-width="2.2" stroke-linecap="butt"/>
<line x1="589.4" y1="147.5" x2="589.4" y2="167.2" stroke="#ff2a00" stroke-width="2.6" stroke-linecap="butt"/>
<line x1="568.5" y1="147.5" x2="610" y2="147.5" stroke="#ff2a00" stroke-width="2.6" stroke-linecap="round"/>
<line x1="568.5" y1="167.2" x2="610" y2="167.2" stroke="#ff2a00" stroke-width="2.6" stroke-linecap="round"/>
<line x1="79.4" y1="260.7" x2="79.4" y2="411.3" stroke="#000" stroke-width="1.8" stroke-linecap="butt"/>
<line x1="73.2" y1="410.4" x2="79.4" y2="410.4" stroke="#000" stroke-width="1.8" stroke-linecap="butt"/>
<text x="70.6" y="414.8" font-size="12.3" text-anchor="end" fill="#000" >0.0</text>
<line x1="73.2" y1="380.64" x2="79.4" y2="380.64" stroke="#000" stroke-width="1.8" stroke-linecap="butt"/>
<text x="70.6" y="385.04" font-size="12.3" text-anchor="end" fill="#000" >0.1</text>
<line x1="73.2" y1="350.88" x2="79.4" y2="350.88" stroke="#000" stroke-width="1.8" stroke-linecap="butt"/>
<text x="70.6" y="355.28" font-size="12.3" text-anchor="end" fill="#000" >0.2</text>
<line x1="73.2" y1="321.12" x2="79.4" y2="321.12" stroke="#000" stroke-width="1.8" stroke-linecap="butt"/>
<text x="70.6" y="325.52" font-size="12.3" text-anchor="end" fill="#000" >0.3</text>
<line x1="73.2" y1="291.36" x2="79.4" y2="291.36" stroke="#000" stroke-width="1.8" stroke-linecap="butt"/>
<text x="70.6" y="295.76" font-size="12.3" text-anchor="end" fill="#000" >0.4</text>
<line x1="73.2" y1="261.6" x2="79.4" y2="261.6" stroke="#000" stroke-width="1.8" stroke-linecap="butt"/>
<text x="70.6" y="266" font-size="12.3" text-anchor="end" fill="#000" >0.5</text>
<line x1="73.2" y1="410.4" x2="302" y2="410.4" stroke="#000" stroke-width="1.8" stroke-linecap="butt"/>
<rect x="92.5" y="387" width="8.4" height="23.4" fill="#8f8f8f"/>
<rect x="83.8" y="407.8" width="7.9" height="2.6" fill="#fff" stroke="#333" stroke-width="1.2"/>
<line x1="92" y1="410.4" x2="92" y2="416.4" stroke="#000" stroke-width="1.8" stroke-linecap="butt"/>
<text transform="translate(94.4,426.9) rotate(-45)" font-size="12.3" text-anchor="end" >0.0000</text>
<rect x="114.35" y="363" width="8.4" height="47.4" fill="#8f8f8f"/>
<rect x="105.65" y="407" width="7.9" height="3.4" fill="#fff" stroke="#333" stroke-width="1.2"/>
<line x1="113.85" y1="410.4" x2="113.85" y2="416.4" stroke="#000" stroke-width="1.8" stroke-linecap="butt"/>
<text transform="translate(116.25,426.9) rotate(-45)" font-size="12.3" text-anchor="end" >0.0025</text>
<rect x="136.2" y="368" width="8.4" height="42.4" fill="#8f8f8f"/>
<rect x="127.5" y="399.6" width="7.9" height="10.8" fill="#fff" stroke="#333" stroke-width="1.2"/>
<line x1="135.7" y1="410.4" x2="135.7" y2="416.4" stroke="#000" stroke-width="1.8" stroke-linecap="butt"/>
<text transform="translate(138.1,426.9) rotate(-45)" font-size="12.3" text-anchor="end" >0.0050</text>
<rect x="158.05" y="372.8" width="8.4" height="37.6" fill="#8f8f8f"/>
<rect x="149.35" y="362.2" width="7.9" height="48.2" fill="#fff" stroke="#333" stroke-width="1.2"/>
<line x1="157.55" y1="410.4" x2="157.55" y2="416.4" stroke="#000" stroke-width="1.8" stroke-linecap="butt"/>
<text transform="translate(159.95,426.9) rotate(-45)" font-size="12.3" text-anchor="end" >0.0075</text>
<rect x="179.9" y="340" width="8.4" height="70.4" fill="#8f8f8f"/>
<rect x="171.2" y="279.6" width="7.9" height="130.8" fill="#fff" stroke="#333" stroke-width="1.2"/>
<line x1="179.4" y1="410.4" x2="179.4" y2="416.4" stroke="#000" stroke-width="1.8" stroke-linecap="butt"/>
<text transform="translate(181.8,426.9) rotate(-45)" font-size="12.3" text-anchor="end" >0.0100</text>
<rect x="201.75" y="349" width="8.4" height="61.4" fill="#8f8f8f"/>
<rect x="193.05" y="341" width="7.9" height="69.4" fill="#fff" stroke="#333" stroke-width="1.2"/>
<line x1="201.25" y1="410.4" x2="201.25" y2="416.4" stroke="#000" stroke-width="1.8" stroke-linecap="butt"/>
<text transform="translate(203.65,426.9) rotate(-45)" font-size="12.3" text-anchor="end" >0.0125</text>
<rect x="223.6" y="401" width="8.4" height="9.4" fill="#8f8f8f"/>
<rect x="214.9" y="391" width="7.9" height="19.4" fill="#fff" stroke="#333" stroke-width="1.2"/>
<line x1="223.1" y1="410.4" x2="223.1" y2="416.4" stroke="#000" stroke-width="1.8" stroke-linecap="butt"/>
<text transform="translate(225.5,426.9) rotate(-45)" font-size="12.3" text-anchor="end" >0.0150</text>
<rect x="245.45" y="405.6" width="8.4" height="4.8" fill="#8f8f8f"/>
<rect x="236.75" y="405.6" width="7.9" height="4.8" fill="#fff" stroke="#333" stroke-width="1.2"/>
<line x1="244.95" y1="410.4" x2="244.95" y2="416.4" stroke="#000" stroke-width="1.8" stroke-linecap="butt"/>
<text transform="translate(247.35,426.9) rotate(-45)" font-size="12.3" text-anchor="end" >0.0175</text>
<rect x="258.6" y="409.6" width="7.9" height="0.8" fill="#fff" stroke="#333" stroke-width="1.2"/>
<line x1="266.8" y1="410.4" x2="266.8" y2="416.4" stroke="#000" stroke-width="1.8" stroke-linecap="butt"/>
<text transform="translate(269.2,426.9) rotate(-45)" font-size="12.3" text-anchor="end" >0.0200</text>
<line x1="288.65" y1="410.4" x2="288.65" y2="416.4" stroke="#000" stroke-width="1.8" stroke-linecap="butt"/>
<text transform="translate(291.05,426.9) rotate(-45)" font-size="12.3" text-anchor="end" >0.0225</text>
<text x="190.7" y="470.8" font-size="12" text-anchor="middle" fill="#000" >Pre-exposure growth rate (min<tspan font-size="0.65em" dy="-0.8em">-1</tspan><tspan dy="0.52em">)</tspan></text>
<text transform="translate(46.4,334.2) rotate(-90)" font-size="12" text-anchor="middle" >Relative frequency</text>
<rect x="202.2" y="268.2" width="15.6" height="7.6" fill="#fff" stroke="#333" stroke-width="1.2"/>
<rect x="201.6" y="303" width="16.8" height="9" fill="#8f8f8f"/>
<text x="227" y="276.8" font-size="12" text-anchor="start" fill="#000" >Non-survivors</text>
<text x="227" y="291.2" font-size="12" text-anchor="start" fill="#000" >n=687</text>
<text x="227" y="312.2" font-size="12" text-anchor="start" fill="#000" >survivors</text>
<text x="227" y="326.8" font-size="12" text-anchor="start" fill="#000" >n=63</text>
<line x1="405" y1="257.3" x2="405" y2="411.2" stroke="#000" stroke-width="1.8" stroke-linecap="butt"/>
<line x1="398.6" y1="410.3" x2="405" y2="410.3" stroke="#000" stroke-width="1.8" stroke-linecap="butt"/>
<text x="396" y="414.7" font-size="12.3" text-anchor="end" fill="#000" >0.0</text>
<line x1="398.6" y1="372.25" x2="405" y2="372.25" stroke="#000" stroke-width="1.8" stroke-linecap="butt"/>
<text x="396" y="376.65" font-size="12.3" text-anchor="end" fill="#000" >0.1</text>
<line x1="398.6" y1="334.2" x2="405" y2="334.2" stroke="#000" stroke-width="1.8" stroke-linecap="butt"/>
<text x="396" y="338.6" font-size="12.3" text-anchor="end" fill="#000" >0.2</text>
<line x1="398.6" y1="296.15" x2="405" y2="296.15" stroke="#000" stroke-width="1.8" stroke-linecap="butt"/>
<text x="396" y="300.55" font-size="12.3" text-anchor="end" fill="#000" >0.3</text>
<line x1="398.6" y1="258.1" x2="405" y2="258.1" stroke="#000" stroke-width="1.8" stroke-linecap="butt"/>
<text x="396" y="262.5" font-size="12.3" text-anchor="end" fill="#000" >0.4</text>
<line x1="398.1" y1="410.3" x2="632" y2="410.3" stroke="#000" stroke-width="1.8" stroke-linecap="butt"/>
<rect x="416.4" y="266.6" width="7.4" height="143.7" fill="#0a2cff"/>
<rect x="409" y="408.1" width="6.8" height="2.2" fill="#fff" stroke="#333" stroke-width="1.2"/>
<line x1="416" y1="410.3" x2="416" y2="416.4" stroke="#000" stroke-width="1.8" stroke-linecap="butt"/>
<text transform="translate(417.8,427) rotate(-45)" font-size="12.2" text-anchor="end" >0.000</text>
<rect x="427.6" y="406.9" width="6.8" height="3.4" fill="#fff" stroke="#333" stroke-width="1.2"/>
<line x1="434.6" y1="410.3" x2="434.6" y2="416.4" stroke="#000" stroke-width="1.8" stroke-linecap="butt"/>
<text transform="translate(436.4,427) rotate(-45)" font-size="12.2" text-anchor="end" >0.001</text>
<rect x="453.6" y="400" width="7.4" height="10.3" fill="#0a2cff"/>
<rect x="446.2" y="410.2" width="6.8" height="0.1" fill="#fff" stroke="#333" stroke-width="1.2"/>
<line x1="453.2" y1="410.3" x2="453.2" y2="416.4" stroke="#000" stroke-width="1.8" stroke-linecap="butt"/>
<text transform="translate(455,427) rotate(-45)" font-size="12.2" text-anchor="end" >0.002</text>
<rect x="472.2" y="389.6" width="7.4" height="20.7" fill="#0a2cff"/>
<rect x="464.8" y="402.8" width="6.8" height="7.5" fill="#fff" stroke="#333" stroke-width="1.2"/>
<line x1="471.8" y1="410.3" x2="471.8" y2="416.4" stroke="#000" stroke-width="1.8" stroke-linecap="butt"/>
<text transform="translate(473.6,427) rotate(-45)" font-size="12.2" text-anchor="end" >0.003</text>
<rect x="490.8" y="389.6" width="7.4" height="20.7" fill="#0a2cff"/>
<rect x="483.4" y="379" width="6.8" height="31.3" fill="#fff" stroke="#333" stroke-width="1.2"/>
<line x1="490.4" y1="410.3" x2="490.4" y2="416.4" stroke="#000" stroke-width="1.8" stroke-linecap="butt"/>
<text transform="translate(492.2,427) rotate(-45)" font-size="12.2" text-anchor="end" >0.004</text>
<rect x="509.4" y="354" width="7.4" height="56.3" fill="#0a2cff"/>
<rect x="502" y="329.1" width="6.8" height="81.2" fill="#fff" stroke="#333" stroke-width="1.2"/>
<line x1="509" y1="410.3" x2="509" y2="416.4" stroke="#000" stroke-width="1.8" stroke-linecap="butt"/>
<text transform="translate(510.8,427) rotate(-45)" font-size="12.2" text-anchor="end" >0.005</text>
<rect x="528" y="333" width="7.4" height="77.3" fill="#0a2cff"/>
<rect x="520.6" y="289" width="6.8" height="121.3" fill="#fff" stroke="#333" stroke-width="1.2"/>
<line x1="527.6" y1="410.3" x2="527.6" y2="416.4" stroke="#000" stroke-width="1.8" stroke-linecap="butt"/>
<text transform="translate(529.4,427) rotate(-45)" font-size="12.2" text-anchor="end" >0.006</text>
<rect x="546.6" y="379.4" width="7.4" height="30.9" fill="#0a2cff"/>
<rect x="539.2" y="326.2" width="6.8" height="84.1" fill="#fff" stroke="#333" stroke-width="1.2"/>
<line x1="546.2" y1="410.3" x2="546.2" y2="416.4" stroke="#000" stroke-width="1.8" stroke-linecap="butt"/>
<text transform="translate(548,427) rotate(-45)" font-size="12.2" text-anchor="end" >0.007</text>
<rect x="565.2" y="405" width="7.4" height="5.3" fill="#0a2cff"/>
<rect x="557.8" y="385.2" width="6.8" height="25.1" fill="#fff" stroke="#333" stroke-width="1.2"/>
<line x1="564.8" y1="410.3" x2="564.8" y2="416.4" stroke="#000" stroke-width="1.8" stroke-linecap="butt"/>
<text transform="translate(566.6,427) rotate(-45)" font-size="12.2" text-anchor="end" >0.008</text>
<rect x="583.8" y="405" width="7.4" height="5.3" fill="#0a2cff"/>
<rect x="576.4" y="403.8" width="6.8" height="6.5" fill="#fff" stroke="#333" stroke-width="1.2"/>
<line x1="583.4" y1="410.3" x2="583.4" y2="416.4" stroke="#000" stroke-width="1.8" stroke-linecap="butt"/>
<text transform="translate(585.2,427) rotate(-45)" font-size="12.2" text-anchor="end" >0.009</text>
<rect x="602.4" y="400" width="7.4" height="10.3" fill="#0a2cff"/>
<rect x="595" y="403.8" width="6.8" height="6.5" fill="#fff" stroke="#333" stroke-width="1.2"/>
<line x1="602" y1="410.3" x2="602" y2="416.4" stroke="#000" stroke-width="1.8" stroke-linecap="butt"/>
<text transform="translate(603.8,427) rotate(-45)" font-size="12.2" text-anchor="end" >0.010</text>
<rect x="613.6" y="408" width="6.8" height="2.3" fill="#fff" stroke="#333" stroke-width="1.2"/>
<line x1="620.6" y1="410.3" x2="620.6" y2="416.4" stroke="#000" stroke-width="1.8" stroke-linecap="butt"/>
<text transform="translate(622.4,427) rotate(-45)" font-size="12.2" text-anchor="end" >0.011</text>
<text x="518.9" y="466.7" font-size="12" text-anchor="middle" fill="#000" >Pre-exposure growth rate (min<tspan font-size="0.65em" dy="-0.8em">-1</tspan><tspan dy="0.52em">)</tspan></text>
<text transform="translate(368.6,332.6) rotate(-90)" font-size="12" text-anchor="middle" >Relative frequency</text>
<rect x="530.6" y="265" width="15.4" height="7.8" fill="#fff" stroke="#333" stroke-width="1.2"/>
<rect x="530" y="300.4" width="16.6" height="9.2" fill="#0a2cff"/>
<text x="556" y="273.4" font-size="12" text-anchor="start" fill="#000" >Non-survivors</text>
<text x="556" y="287.6" font-size="12" text-anchor="start" fill="#000" >n=282</text>
<text x="556" y="309.4" font-size="12" text-anchor="start" fill="#000" >survivors</text>
<text x="556" y="324.3" font-size="12" text-anchor="start" fill="#000" >n=74</text>
<line x1="69" y1="481.4" x2="69" y2="678.5" stroke="#222" stroke-width="1.6" stroke-linecap="butt"/>
<line x1="64.6" y1="636.4" x2="69" y2="636.4" stroke="#222" stroke-width="1.6" stroke-linecap="butt"/>
<text x="63.6" y="640.4" font-size="11" text-anchor="end" fill="#000" >0.01</text>
<line x1="64.6" y1="597.8" x2="69" y2="597.8" stroke="#222" stroke-width="1.6" stroke-linecap="butt"/>
<text x="63.6" y="601.8" font-size="11" text-anchor="end" fill="#000" >0.02</text>
<line x1="64.6" y1="559.2" x2="69" y2="559.2" stroke="#222" stroke-width="1.6" stroke-linecap="butt"/>
<text x="63.6" y="563.2" font-size="11" text-anchor="end" fill="#000" >0.03</text>
<line x1="64.6" y1="520.6" x2="69" y2="520.6" stroke="#222" stroke-width="1.6" stroke-linecap="butt"/>
<text x="63.6" y="524.6" font-size="11" text-anchor="end" fill="#000" >0.04</text>
<line x1="64.6" y1="482" x2="69" y2="482" stroke="#222" stroke-width="1.6" stroke-linecap="butt"/>
<text x="63.6" y="486" font-size="11" text-anchor="end" fill="#000" >0.05</text>
<line x1="58" y1="674.6" x2="347" y2="674.6" stroke="#222" stroke-width="1.6" stroke-linecap="butt"/>
<line x1="69.2" y1="674.6" x2="69.2" y2="678.5" stroke="#222" stroke-width="1.6" stroke-linecap="butt"/>
<text x="69.2" y="689.4" font-size="11" text-anchor="middle" fill="#000" >0.00</text>
<line x1="180.2" y1="674.6" x2="180.2" y2="678.5" stroke="#222" stroke-width="1.6" stroke-linecap="butt"/>
<text x="180.2" y="689.4" font-size="11" text-anchor="middle" fill="#000" >0.01</text>
<line x1="291.2" y1="674.6" x2="291.2" y2="678.5" stroke="#222" stroke-width="1.6" stroke-linecap="butt"/>
<text x="291.2" y="689.4" font-size="11" text-anchor="middle" fill="#000" >0.02</text>
<text x="202.6" y="704.5" font-size="12" text-anchor="middle" fill="#000" >Pre-exposure growth rate (min<tspan font-size="0.65em" dy="-0.8em">-1</tspan><tspan dy="0.52em">)</tspan></text>
<text transform="translate(35.4,578.7) rotate(-90)" font-size="12" text-anchor="middle" >Lysis rate (min<tspan font-size="0.65em" dy="-0.8em">-1</tspan><tspan dy="0.52em">)</tspan></text>
<text x="281.4" y="525.6" font-size="11.5" text-anchor="middle" fill="#000" >M9</text>
<text x="281.5" y="539.4" font-size="11.5" text-anchor="middle" fill="#000" >n = 687</text>
<text x="257.9" y="591.4" font-size="13" text-anchor="start" fill="#000" >r = 0.199</text>
<line x1="392.3" y1="487.6" x2="392.3" y2="677.5" stroke="#222" stroke-width="1.6" stroke-linecap="butt"/>
<line x1="388.6" y1="674.8" x2="392.3" y2="674.8" stroke="#222" stroke-width="1.6" stroke-linecap="butt"/>
<text x="387" y="678.8" font-size="11" text-anchor="end" fill="#000" >0.00</text>
<line x1="388.6" y1="637.5" x2="392.3" y2="637.5" stroke="#222" stroke-width="1.6" stroke-linecap="butt"/>
<text x="387" y="641.5" font-size="11" text-anchor="end" fill="#000" >0.01</text>
<line x1="388.6" y1="600.2" x2="392.3" y2="600.2" stroke="#222" stroke-width="1.6" stroke-linecap="butt"/>
<text x="387" y="604.2" font-size="11" text-anchor="end" fill="#000" >0.02</text>
<line x1="388.6" y1="562.9" x2="392.3" y2="562.9" stroke="#222" stroke-width="1.6" stroke-linecap="butt"/>
<text x="387" y="566.9" font-size="11" text-anchor="end" fill="#000" >0.03</text>
<line x1="388.6" y1="525.6" x2="392.3" y2="525.6" stroke="#222" stroke-width="1.6" stroke-linecap="butt"/>
<text x="387" y="529.6" font-size="11" text-anchor="end" fill="#000" >0.04</text>
<line x1="388.6" y1="488.3" x2="392.3" y2="488.3" stroke="#222" stroke-width="1.6" stroke-linecap="butt"/>
<text x="387" y="492.3" font-size="11" text-anchor="end" fill="#000" >0.05</text>
<line x1="388.6" y1="675" x2="672.4" y2="675" stroke="#222" stroke-width="1.6" stroke-linecap="butt"/>
<line x1="392.2" y1="675" x2="392.2" y2="677.8" stroke="#222" stroke-width="1.6" stroke-linecap="butt"/>
<text x="392.2" y="688.5" font-size="11" text-anchor="middle" fill="#000" >0.000</text>
<line x1="485.75" y1="675" x2="485.75" y2="677.8" stroke="#222" stroke-width="1.6" stroke-linecap="butt"/>
<text x="485.75" y="688.5" font-size="11" text-anchor="middle" fill="#000" >0.005</text>
<line x1="579.3" y1="675" x2="579.3" y2="677.8" stroke="#222" stroke-width="1.6" stroke-linecap="butt"/>
<text x="579.3" y="688.5" font-size="11" text-anchor="middle" fill="#000" >0.010</text>
<line x1="672.85" y1="675" x2="672.85" y2="677.8" stroke="#222" stroke-width="1.6" stroke-linecap="butt"/>
<text x="672.85" y="688.5" font-size="11" text-anchor="middle" fill="#000" >0.015</text>
<text x="532.7" y="705.3" font-size="11.4" text-anchor="middle" fill="#000" >Pre-exposure growth rate (min<tspan font-size="0.65em" dy="-0.8em">-1</tspan><tspan dy="0.52em">)</tspan></text>
<text transform="translate(362.2,579.6) rotate(-90)" font-size="11.5" text-anchor="middle" >Lysis rate (min<tspan font-size="0.65em" dy="-0.8em">-1</tspan><tspan dy="0.52em">)</tspan></text>
<text x="557.4" y="543.5" font-size="11.5" text-anchor="start" fill="#000" >M9+40<tspan style="font-weight:normal">α</tspan>MG</text>
<text x="588.4" y="557.3" font-size="11.5" text-anchor="middle" fill="#000" >n = 282</text>
<text x="596.8" y="624.3" font-size="13" text-anchor="start" fill="#000" >r = 0.116</text>
<line x1="69" y1="657.4" x2="313.6" y2="630.4" stroke="#ff2a00" stroke-width="1.3"/>
<g fill="none" stroke="#111" stroke-width="1"><circle cx="201.4" cy="637.9" r="3"/><circle cx="116.9" cy="664.1" r="3"/><circle cx="194.0" cy="652.2" r="3"/><circle cx="177.0" cy="661.5" r="3"/><circle cx="120.4" cy="668.9" r="3"/><circle cx="150.3" cy="650.2" r="3"/><circle cx="230.0" cy="659.8" r="3"/><circle cx="182.7" cy="646.6" r="3"/><circle cx="178.6" cy="636.3" r="3"/><circle cx="172.5" cy="661.2" r="3"/><circle cx="191.1" cy="643.0" r="3"/><circle cx="192.0" cy="626.6" r="3"/><circle cx="260.6" cy="634.7" r="3"/><circle cx="231.7" cy="662.1" r="3"/><circle cx="180.8" cy="632.1" r="3"/><circle cx="219.3" cy="656.8" r="3"/><circle cx="201.4" cy="648.9" r="3"/><circle cx="192.8" cy="644.5" r="3"/><circle cx="220.7" cy="636.4" r="3"/><circle cx="233.5" cy="647.9" r="3"/><circle cx="155.0" cy="641.0" r="3"/><circle cx="186.8" cy="645.7" r="3"/><circle cx="201.3" cy="658.9" r="3"/><circle cx="171.3" cy="663.2" r="3"/><circle cx="248.1" cy="628.8" r="3"/><circle cx="197.5" cy="657.2" r="3"/><circle cx="148.0" cy="644.2" r="3"/><circle cx="158.3" cy="643.8" r="3"/><circle cx="176.4" cy="654.8" r="3"/><circle cx="215.5" cy="664.6" r="3"/><circle cx="192.5" cy="644.5" r="3"/><circle cx="234.1" cy="624.0" r="3"/><circle cx="199.5" cy="663.7" r="3"/><circle cx="237.2" cy="644.4" r="3"/><circle cx="209.6" cy="650.7" r="3"/><circle cx="175.6" cy="635.4" r="3"/><circle cx="213.0" cy="659.6" r="3"/><circle cx="205.6" cy="659.0" r="3"/><circle cx="157.5" cy="627.1" r="3"/><circle cx="192.2" cy="659.1" r="3"/><circle cx="192.2" cy="653.6" r="3"/><circle cx="216.0" cy="624.3" r="3"/><circle cx="166.4" cy="638.9" r="3"/><circle cx="174.1" cy="637.1" r="3"/><circle cx="181.4" cy="614.8" r="3"/><circle cx="177.7" cy="630.9" r="3"/><circle cx="213.1" cy="657.4" r="3"/><circle cx="196.6" cy="650.8" r="3"/><circle cx="177.7" cy="659.4" r="3"/><circle cx="150.6" cy="655.2" r="3"/><circle cx="164.9" cy="638.4" r="3"/><circle cx="175.1" cy="617.2" r="3"/><circle cx="181.7" cy="650.7" r="3"/><circle cx="242.6" cy="657.5" r="3"/><circle cx="158.9" cy="655.5" r="3"/><circle cx="221.4" cy="649.6" r="3"/><circle cx="208.9" cy="650.9" r="3"/><circle cx="172.7" cy="644.3" r="3"/><circle cx="165.7" cy="635.8" r="3"/><circle cx="166.4" cy="665.0" r="3"/><circle cx="185.5" cy="665.4" r="3"/><circle cx="202.9" cy="657.2" r="3"/><circle cx="231.9" cy="655.6" r="3"/><circle cx="162.9" cy="618.3" r="3"/><circle cx="140.4" cy="657.0" r="3"/><circle cx="198.6" cy="630.6" r="3"/><circle cx="161.3" cy="661.3" r="3"/><circle cx="189.0" cy="663.4" r="3"/><circle cx="193.5" cy="642.2" r="3"/><circle cx="183.3" cy="642.8" r="3"/><circle cx="251.5" cy="651.1" r="3"/><circle cx="185.4" cy="656.4" r="3"/><circle cx="202.1" cy="666.8" r="3"/><circle cx="172.3" cy="641.4" r="3"/><circle cx="182.5" cy="644.5" r="3"/><circle cx="160.7" cy="645.3" r="3"/><circle cx="158.4" cy="636.5" r="3"/><circle cx="193.3" cy="615.9" r="3"/><circle cx="195.3" cy="628.2" r="3"/><circle cx="152.8" cy="664.4" r="3"/><circle cx="182.4" cy="657.7" r="3"/><circle cx="214.1" cy="618.1" r="3"/><circle cx="228.3" cy="628.5" r="3"/><circle cx="120.9" cy="659.5" r="3"/><circle cx="178.4" cy="649.4" r="3"/><circle cx="225.4" cy="656.5" r="3"/><circle cx="182.2" cy="636.9" r="3"/><circle cx="182.4" cy="657.7" r="3"/><circle cx="186.0" cy="647.4" r="3"/><circle cx="149.2" cy="656.0" r="3"/><circle cx="150.3" cy="660.7" r="3"/><circle cx="209.1" cy="617.6" r="3"/><circle cx="206.3" cy="635.4" r="3"/><circle cx="188.3" cy="613.9" r="3"/><circle cx="163.2" cy="623.7" r="3"/><circle cx="176.8" cy="657.3" r="3"/><circle cx="170.2" cy="650.2" r="3"/><circle cx="178.5" cy="664.8" r="3"/><circle cx="201.4" cy="616.6" r="3"/><circle cx="165.3" cy="635.3" r="3"/><circle cx="243.1" cy="654.3" r="3"/><circle cx="172.2" cy="642.2" r="3"/><circle cx="201.0" cy="659.6" r="3"/><circle cx="183.7" cy="651.7" r="3"/><circle cx="140.6" cy="648.1" r="3"/><circle cx="180.6" cy="627.3" r="3"/><circle cx="224.3" cy="651.4" r="3"/><circle cx="187.3" cy="649.6" r="3"/><circle cx="174.8" cy="652.8" r="3"/><circle cx="225.4" cy="635.4" r="3"/><circle cx="196.8" cy="665.5" r="3"/><circle cx="240.3" cy="652.9" r="3"/><circle cx="181.7" cy="653.4" r="3"/><circle cx="189.7" cy="632.5" r="3"/><circle cx="183.3" cy="661.3" r="3"/><circle cx="194.0" cy="627.8" r="3"/><circle cx="175.4" cy="631.5" r="3"/><circle cx="204.2" cy="624.8" r="3"/><circle cx="156.6" cy="658.7" r="3"/><circle cx="147.3" cy="659.9" r="3"/><circle cx="183.3" cy="644.1" r="3"/><circle cx="184.9" cy="654.8" r="3"/><circle cx="161.7" cy="654.2" r="3"/><circle cx="194.2" cy="645.5" r="3"/><circle cx="165.2" cy="642.9" r="3"/><circle cx="194.9" cy="642.4" r="3"/><circle cx="171.7" cy="649.7" r="3"/><circle cx="192.4" cy="654.7" r="3"/><circle cx="177.8" cy="658.9" r="3"/><circle cx="155.1" cy="649.4" r="3"/><circle cx="225.8" cy="650.7" r="3"/><circle cx="165.8" cy="649.5" r="3"/><circle cx="181.1" cy="631.6" r="3"/><circle cx="189.8" cy="656.2" r="3"/><circle cx="191.6" cy="633.0" r="3"/><circle cx="220.9" cy="616.3" r="3"/><circle cx="197.1" cy="637.6" r="3"/><circle cx="176.4" cy="643.4" r="3"/><circle cx="214.2" cy="649.6" r="3"/><circle cx="174.6" cy="662.8" r="3"/><circle cx="146.4" cy="646.1" r="3"/><circle cx="137.4" cy="664.4" r="3"/><circle cx="158.8" cy="652.8" r="3"/><circle cx="165.3" cy="630.0" r="3"/><circle cx="202.9" cy="645.9" r="3"/><circle cx="143.8" cy="661.3" r="3"/><circle cx="200.8" cy="652.5" r="3"/><circle cx="160.4" cy="650.4" r="3"/><circle cx="159.4" cy="637.7" r="3"/><circle cx="177.1" cy="643.4" r="3"/><circle cx="181.7" cy="616.7" r="3"/><circle cx="201.7" cy="653.5" r="3"/><circle cx="182.4" cy="647.1" r="3"/><circle cx="195.5" cy="661.6" r="3"/><circle cx="209.4" cy="650.5" r="3"/><circle cx="210.0" cy="649.8" r="3"/><circle cx="165.4" cy="652.7" r="3"/><circle cx="154.9" cy="645.6" r="3"/><circle cx="206.8" cy="648.7" r="3"/><circle cx="244.0" cy="631.9" r="3"/><circle cx="196.1" cy="642.0" r="3"/><circle cx="207.7" cy="664.0" r="3"/><circle cx="203.1" cy="660.3" r="3"/><circle cx="179.6" cy="639.7" r="3"/><circle cx="187.8" cy="659.2" r="3"/><circle cx="187.0" cy="657.8" r="3"/><circle cx="201.4" cy="633.4" r="3"/><circle cx="174.0" cy="640.4" r="3"/><circle cx="195.1" cy="641.8" r="3"/><circle cx="188.2" cy="647.4" r="3"/><circle cx="184.9" cy="646.2" r="3"/><circle cx="156.9" cy="661.4" r="3"/><circle cx="198.3" cy="641.1" r="3"/><circle cx="170.8" cy="657.3" r="3"/><circle cx="193.0" cy="669.9" r="3"/><circle cx="157.9" cy="642.4" r="3"/><circle cx="189.7" cy="644.9" r="3"/><circle cx="182.2" cy="618.4" r="3"/><circle cx="159.6" cy="658.0" r="3"/><circle cx="174.0" cy="644.2" r="3"/><circle cx="214.8" cy="647.8" r="3"/><circle cx="207.7" cy="650.3" r="3"/><circle cx="119.1" cy="634.6" r="3"/><circle cx="234.9" cy="642.4" r="3"/><circle cx="194.3" cy="627.3" r="3"/><circle cx="148.1" cy="633.4" r="3"/><circle cx="241.4" cy="642.7" r="3"/><circle cx="205.4" cy="641.9" r="3"/><circle cx="201.1" cy="657.4" r="3"/><circle cx="216.7" cy="656.2" r="3"/><circle cx="185.0" cy="645.9" r="3"/><circle cx="179.4" cy="665.4" r="3"/><circle cx="192.1" cy="630.7" r="3"/><circle cx="212.6" cy="645.3" r="3"/><circle cx="165.1" cy="626.9" r="3"/><circle cx="165.9" cy="639.8" r="3"/><circle cx="180.8" cy="656.7" r="3"/><circle cx="207.1" cy="657.9" r="3"/><circle cx="180.3" cy="648.5" r="3"/><circle cx="176.6" cy="660.2" r="3"/><circle cx="187.1" cy="648.1" r="3"/><circle cx="160.9" cy="666.9" r="3"/><circle cx="189.5" cy="654.7" r="3"/><circle cx="182.2" cy="655.1" r="3"/><circle cx="210.7" cy="647.9" r="3"/><circle cx="179.6" cy="646.7" r="3"/><circle cx="167.9" cy="653.7" r="3"/><circle cx="171.4" cy="639.3" r="3"/><circle cx="197.3" cy="639.0" r="3"/><circle cx="115.7" cy="659.4" r="3"/><circle cx="170.8" cy="627.4" r="3"/><circle cx="187.2" cy="640.6" r="3"/><circle cx="187.5" cy="645.0" r="3"/><circle cx="166.6" cy="647.4" r="3"/><circle cx="204.6" cy="619.6" r="3"/><circle cx="176.0" cy="661.3" r="3"/><circle cx="171.5" cy="658.5" r="3"/><circle cx="181.7" cy="638.3" r="3"/><circle cx="160.7" cy="638.4" r="3"/><circle cx="185.7" cy="644.8" r="3"/><circle cx="185.1" cy="645.9" r="3"/><circle cx="195.1" cy="653.0" r="3"/><circle cx="156.4" cy="642.1" r="3"/><circle cx="192.8" cy="666.8" r="3"/><circle cx="173.1" cy="654.9" r="3"/><circle cx="187.6" cy="639.5" r="3"/><circle cx="153.9" cy="630.1" r="3"/><circle cx="150.2" cy="657.6" r="3"/><circle cx="235.0" cy="654.2" r="3"/><circle cx="103.9" cy="637.7" r="3"/><circle cx="177.0" cy="655.4" r="3"/><circle cx="220.0" cy="664.5" r="3"/><circle cx="184.2" cy="654.0" r="3"/><circle cx="226.9" cy="645.8" r="3"/><circle cx="180.5" cy="653.7" r="3"/><circle cx="202.8" cy="636.3" r="3"/><circle cx="189.9" cy="643.2" r="3"/><circle cx="193.9" cy="626.3" r="3"/><circle cx="177.6" cy="646.7" r="3"/><circle cx="164.2" cy="645.1" r="3"/><circle cx="152.9" cy="638.4" r="3"/><circle cx="192.6" cy="657.7" r="3"/><circle cx="180.1" cy="633.8" r="3"/><circle cx="257.1" cy="624.0" r="3"/><circle cx="190.3" cy="651.5" r="3"/><circle cx="147.8" cy="659.6" r="3"/><circle cx="210.2" cy="649.4" r="3"/><circle cx="160.9" cy="616.9" r="3"/><circle cx="175.6" cy="669.0" r="3"/><circle cx="194.3" cy="630.4" r="3"/><circle cx="168.0" cy="650.8" r="3"/><circle cx="195.3" cy="620.4" r="3"/><circle cx="158.5" cy="652.6" r="3"/><circle cx="217.1" cy="627.7" r="3"/><circle cx="210.4" cy="632.2" r="3"/><circle cx="168.3" cy="661.9" r="3"/><circle cx="185.4" cy="657.0" r="3"/><circle cx="206.9" cy="626.4" r="3"/><circle cx="182.6" cy="662.8" r="3"/><circle cx="194.5" cy="649.7" r="3"/><circle cx="181.0" cy="639.5" r="3"/><circle cx="168.9" cy="664.6" r="3"/><circle cx="162.4" cy="649.2" r="3"/><circle cx="224.6" cy="636.1" r="3"/><circle cx="178.3" cy="661.8" r="3"/><circle cx="134.3" cy="653.2" r="3"/><circle cx="185.8" cy="655.8" r="3"/><circle cx="167.4" cy="627.7" r="3"/><circle cx="214.3" cy="640.7" r="3"/><circle cx="160.1" cy="641.2" r="3"/><circle cx="179.7" cy="631.4" r="3"/><circle cx="158.1" cy="646.6" r="3"/><circle cx="167.3" cy="660.8" r="3"/><circle cx="160.9" cy="647.1" r="3"/><circle cx="223.9" cy="640.2" r="3"/><circle cx="170.4" cy="647.8" r="3"/><circle cx="201.1" cy="642.2" r="3"/><circle cx="195.8" cy="661.6" r="3"/><circle cx="193.4" cy="643.0" r="3"/><circle cx="179.3" cy="658.3" r="3"/><circle cx="176.6" cy="632.0" r="3"/><circle cx="154.5" cy="664.8" r="3"/><circle cx="243.1" cy="641.5" r="3"/><circle cx="202.6" cy="637.0" r="3"/><circle cx="190.7" cy="642.2" r="3"/><circle cx="165.2" cy="660.0" r="3"/><circle cx="181.4" cy="617.3" r="3"/><circle cx="182.5" cy="638.0" r="3"/><circle cx="169.4" cy="644.2" r="3"/><circle cx="174.4" cy="614.3" r="3"/><circle cx="194.6" cy="638.1" r="3"/><circle cx="216.4" cy="626.7" r="3"/><circle cx="184.4" cy="633.3" r="3"/><circle cx="159.2" cy="639.6" r="3"/><circle cx="178.3" cy="654.3" r="3"/><circle cx="225.0" cy="630.2" r="3"/><circle cx="185.7" cy="635.8" r="3"/><circle cx="189.2" cy="638.2" r="3"/><circle cx="179.3" cy="657.9" r="3"/><circle cx="177.9" cy="651.3" r="3"/><circle cx="149.1" cy="639.7" r="3"/><circle cx="192.2" cy="655.8" r="3"/><circle cx="188.7" cy="654.5" r="3"/><circle cx="176.4" cy="656.0" r="3"/><circle cx="158.5" cy="660.4" r="3"/><circle cx="172.6" cy="663.0" r="3"/><circle cx="184.4" cy="646.0" r="3"/><circle cx="165.5" cy="626.7" r="3"/><circle cx="183.3" cy="634.9" r="3"/><circle cx="147.1" cy="670.4" r="3"/><circle cx="195.9" cy="661.3" r="3"/><circle cx="210.0" cy="666.6" r="3"/><circle cx="164.0" cy="633.3" r="3"/><circle cx="193.5" cy="653.9" r="3"/><circle cx="162.7" cy="660.2" r="3"/><circle cx="177.6" cy="654.0" r="3"/><circle cx="181.7" cy="638.9" r="3"/><circle cx="217.5" cy="650.3" r="3"/><circle cx="167.5" cy="660.6" r="3"/><circle cx="221.1" cy="661.6" r="3"/><circle cx="147.1" cy="649.2" r="3"/><circle cx="159.0" cy="662.8" r="3"/><circle cx="193.3" cy="657.6" r="3"/><circle cx="209.8" cy="640.5" r="3"/><circle cx="159.1" cy="666.5" r="3"/><circle cx="183.9" cy="637.0" r="3"/><circle cx="209.4" cy="660.0" r="3"/><circle cx="183.8" cy="663.0" r="3"/><circle cx="198.0" cy="652.0" r="3"/><circle cx="188.4" cy="654.4" r="3"/><circle cx="175.9" cy="651.8" r="3"/><circle cx="156.8" cy="623.0" r="3"/><circle cx="165.5" cy="646.2" r="3"/><circle cx="204.6" cy="664.5" r="3"/><circle cx="184.7" cy="653.8" r="3"/><circle cx="183.2" cy="640.9" r="3"/><circle cx="122.6" cy="655.8" r="3"/><circle cx="217.0" cy="659.8" r="3"/><circle cx="182.8" cy="654.3" r="3"/><circle cx="155.5" cy="657.3" r="3"/><circle cx="188.7" cy="662.0" r="3"/><circle cx="196.7" cy="648.5" r="3"/><circle cx="179.3" cy="656.0" r="3"/><circle cx="193.2" cy="650.3" r="3"/><circle cx="153.8" cy="649.0" r="3"/><circle cx="217.8" cy="656.2" r="3"/><circle cx="200.4" cy="618.6" r="3"/><circle cx="216.6" cy="645.1" r="3"/><circle cx="171.0" cy="650.4" r="3"/><circle cx="193.6" cy="646.1" r="3"/><circle cx="157.4" cy="624.3" r="3"/><circle cx="157.4" cy="660.9" r="3"/><circle cx="153.2" cy="638.3" r="3"/><circle cx="197.3" cy="660.4" r="3"/><circle cx="273.6" cy="638.6" r="3"/><circle cx="189.6" cy="662.0" r="3"/><circle cx="147.0" cy="654.8" r="3"/><circle cx="168.3" cy="656.7" r="3"/><circle cx="223.1" cy="653.7" r="3"/><circle cx="172.9" cy="630.7" r="3"/><circle cx="155.0" cy="632.0" r="3"/><circle cx="145.8" cy="652.4" r="3"/><circle cx="171.5" cy="656.0" r="3"/><circle cx="160.7" cy="632.8" r="3"/><circle cx="162.0" cy="661.4" r="3"/><circle cx="190.5" cy="663.7" r="3"/><circle cx="214.5" cy="649.1" r="3"/><circle cx="170.7" cy="649.2" r="3"/><circle cx="207.2" cy="644.5" r="3"/><circle cx="189.7" cy="647.7" r="3"/><circle cx="98.3" cy="626.9" r="3"/><circle cx="179.5" cy="658.0" r="3"/><circle cx="182.1" cy="653.3" r="3"/><circle cx="150.2" cy="659.0" r="3"/><circle cx="195.6" cy="630.4" r="3"/><circle cx="80.6" cy="665.4" r="3"/><circle cx="156.0" cy="662.3" r="3"/><circle cx="190.7" cy="650.2" r="3"/><circle cx="192.3" cy="655.6" r="3"/><circle cx="209.0" cy="642.7" r="3"/><circle cx="155.7" cy="667.8" r="3"/><circle cx="203.5" cy="633.4" r="3"/><circle cx="248.5" cy="643.6" r="3"/><circle cx="158.0" cy="654.0" r="3"/><circle cx="178.8" cy="656.0" r="3"/><circle cx="173.3" cy="641.2" r="3"/><circle cx="170.1" cy="651.8" r="3"/><circle cx="229.7" cy="641.5" r="3"/><circle cx="214.6" cy="649.9" r="3"/><circle cx="183.1" cy="615.9" r="3"/><circle cx="226.2" cy="648.3" r="3"/><circle cx="182.4" cy="660.4" r="3"/><circle cx="170.1" cy="668.7" r="3"/><circle cx="175.4" cy="666.8" r="3"/><circle cx="176.5" cy="657.9" r="3"/><circle cx="227.7" cy="649.9" r="3"/><circle cx="197.6" cy="636.0" r="3"/><circle cx="158.1" cy="642.7" r="3"/><circle cx="209.2" cy="655.3" r="3"/><circle cx="180.9" cy="644.5" r="3"/><circle cx="226.8" cy="648.4" r="3"/><circle cx="152.5" cy="647.2" r="3"/><circle cx="204.6" cy="654.2" r="3"/><circle cx="188.8" cy="633.3" r="3"/><circle cx="181.0" cy="655.5" r="3"/><circle cx="171.4" cy="670.4" r="3"/><circle cx="153.5" cy="638.5" r="3"/><circle cx="169.7" cy="628.8" r="3"/><circle cx="191.5" cy="613.8" r="3"/><circle cx="219.0" cy="650.3" r="3"/><circle cx="172.0" cy="658.7" r="3"/><circle cx="143.6" cy="663.3" r="3"/><circle cx="240.5" cy="627.8" r="3"/><circle cx="167.7" cy="652.3" r="3"/><circle cx="203.6" cy="662.8" r="3"/><circle cx="185.6" cy="641.2" r="3"/><circle cx="181.9" cy="647.7" r="3"/><circle cx="176.4" cy="656.0" r="3"/><circle cx="123.0" cy="663.4" r="3"/><circle cx="173.1" cy="656.5" r="3"/><circle cx="188.6" cy="647.6" r="3"/><circle cx="171.8" cy="654.6" r="3"/><circle cx="184.2" cy="661.2" r="3"/><circle cx="187.9" cy="629.2" r="3"/><circle cx="190.9" cy="620.8" r="3"/><circle cx="183.0" cy="650.1" r="3"/><circle cx="194.8" cy="647.4" r="3"/><circle cx="198.1" cy="629.0" r="3"/><circle cx="206.0" cy="656.3" r="3"/><circle cx="187.2" cy="641.8" r="3"/><circle cx="194.3" cy="623.4" r="3"/><circle cx="162.8" cy="651.3" r="3"/><circle cx="161.5" cy="667.3" r="3"/><circle cx="191.2" cy="661.7" r="3"/><circle cx="176.9" cy="657.0" r="3"/><circle cx="157.5" cy="649.6" r="3"/><circle cx="190.8" cy="665.4" r="3"/><circle cx="180.4" cy="663.9" r="3"/><circle cx="185.3" cy="640.7" r="3"/><circle cx="174.5" cy="653.0" r="3"/><circle cx="147.5" cy="649.3" r="3"/><circle cx="207.0" cy="628.5" r="3"/><circle cx="146.6" cy="664.3" r="3"/><circle cx="173.6" cy="638.0" r="3"/><circle cx="166.2" cy="638.9" r="3"/><circle cx="175.6" cy="661.4" r="3"/><circle cx="160.6" cy="643.7" r="3"/><circle cx="192.5" cy="641.1" r="3"/><circle cx="171.1" cy="666.4" r="3"/><circle cx="197.2" cy="664.8" r="3"/><circle cx="182.9" cy="647.7" r="3"/><circle cx="173.1" cy="642.2" r="3"/><circle cx="200.7" cy="667.9" r="3"/><circle cx="223.5" cy="657.9" r="3"/><circle cx="166.1" cy="654.6" r="3"/><circle cx="165.6" cy="650.9" r="3"/><circle cx="174.4" cy="653.8" r="3"/><circle cx="192.8" cy="660.2" r="3"/><circle cx="174.3" cy="642.4" r="3"/><circle cx="216.5" cy="638.9" r="3"/><circle cx="173.9" cy="627.8" r="3"/><circle cx="179.5" cy="661.0" r="3"/><circle cx="176.6" cy="648.6" r="3"/><circle cx="185.7" cy="635.8" r="3"/><circle cx="199.5" cy="629.3" r="3"/><circle cx="170.2" cy="630.1" r="3"/><circle cx="184.3" cy="664.6" r="3"/><circle cx="169.7" cy="663.2" r="3"/><circle cx="189.7" cy="648.5" r="3"/><circle cx="216.8" cy="653.5" r="3"/><circle cx="181.6" cy="669.8" r="3"/><circle cx="176.1" cy="639.2" r="3"/><circle cx="155.6" cy="636.9" r="3"/><circle cx="158.6" cy="662.1" r="3"/><circle cx="224.6" cy="649.8" r="3"/><circle cx="168.3" cy="644.4" r="3"/><circle cx="196.4" cy="653.0" r="3"/><circle cx="172.2" cy="656.1" r="3"/><circle cx="190.0" cy="649.1" r="3"/><circle cx="193.3" cy="661.4" r="3"/><circle cx="183.5" cy="649.0" r="3"/><circle cx="180.8" cy="625.4" r="3"/><circle cx="172.0" cy="638.1" r="3"/><circle cx="175.6" cy="642.8" r="3"/><circle cx="173.8" cy="655.0" r="3"/><circle cx="189.5" cy="644.4" r="3"/><circle cx="174.1" cy="639.5" r="3"/><circle cx="191.4" cy="663.1" r="3"/><circle cx="178.0" cy="652.4" r="3"/><circle cx="186.0" cy="637.6" r="3"/><circle cx="180.2" cy="638.7" r="3"/><circle cx="241.2" cy="623.5" r="3"/><circle cx="183.0" cy="644.6" r="3"/><circle cx="199.5" cy="619.2" r="3"/><circle cx="189.2" cy="659.7" r="3"/><circle cx="218.8" cy="641.4" r="3"/><circle cx="173.9" cy="652.4" r="3"/><circle cx="158.0" cy="652.1" r="3"/><circle cx="190.2" cy="627.9" r="3"/><circle cx="212.8" cy="645.3" r="3"/><circle cx="176.1" cy="627.7" r="3"/><circle cx="209.6" cy="654.0" r="3"/><circle cx="158.2" cy="650.6" r="3"/><circle cx="208.9" cy="638.6" r="3"/><circle cx="190.3" cy="655.6" r="3"/><circle cx="183.5" cy="650.7" r="3"/><circle cx="210.2" cy="652.0" r="3"/><circle cx="193.2" cy="645.5" r="3"/><circle cx="195.3" cy="629.0" r="3"/><circle cx="172.4" cy="636.4" r="3"/><circle cx="130.5" cy="641.7" r="3"/><circle cx="191.0" cy="663.0" r="3"/><circle cx="167.1" cy="619.3" r="3"/><circle cx="207.0" cy="645.3" r="3"/><circle cx="179.8" cy="646.5" r="3"/><circle cx="186.8" cy="651.9" r="3"/><circle cx="194.7" cy="663.3" r="3"/><circle cx="163.8" cy="662.5" r="3"/><circle cx="169.2" cy="651.0" r="3"/><circle cx="208.4" cy="633.9" r="3"/><circle cx="195.4" cy="650.2" r="3"/><circle cx="164.1" cy="651.5" r="3"/><circle cx="114.3" cy="647.2" r="3"/><circle cx="177.8" cy="643.4" r="3"/><circle cx="160.7" cy="631.6" r="3"/><circle cx="133.5" cy="666.2" r="3"/><circle cx="168.9" cy="645.3" r="3"/><circle cx="175.2" cy="648.4" r="3"/><circle cx="199.7" cy="627.9" r="3"/><circle cx="189.9" cy="646.5" r="3"/><circle cx="176.2" cy="637.3" r="3"/><circle cx="154.6" cy="648.5" r="3"/><circle cx="194.2" cy="651.7" r="3"/><circle cx="189.6" cy="659.7" r="3"/><circle cx="238.4" cy="639.2" r="3"/><circle cx="172.1" cy="646.1" r="3"/><circle cx="185.7" cy="620.0" r="3"/><circle cx="165.7" cy="655.4" r="3"/><circle cx="199.6" cy="644.9" r="3"/><circle cx="173.9" cy="638.7" r="3"/><circle cx="173.8" cy="653.8" r="3"/><circle cx="184.3" cy="651.3" r="3"/><circle cx="202.1" cy="650.5" r="3"/><circle cx="188.4" cy="639.8" r="3"/><circle cx="169.1" cy="663.5" r="3"/><circle cx="202.1" cy="650.3" r="3"/><circle cx="215.4" cy="648.3" r="3"/><circle cx="185.6" cy="628.8" r="3"/><circle cx="198.7" cy="668.1" r="3"/><circle cx="166.4" cy="643.1" r="3"/><circle cx="165.4" cy="635.2" r="3"/><circle cx="151.9" cy="658.5" r="3"/><circle cx="163.2" cy="633.2" r="3"/><circle cx="175.5" cy="656.4" r="3"/><circle cx="202.3" cy="623.3" r="3"/><circle cx="164.8" cy="641.9" r="3"/><circle cx="171.5" cy="635.9" r="3"/><circle cx="168.8" cy="635.8" r="3"/><circle cx="172.9" cy="638.6" r="3"/><circle cx="163.7" cy="653.2" r="3"/><circle cx="194.9" cy="621.8" r="3"/><circle cx="174.6" cy="638.9" r="3"/><circle cx="182.7" cy="643.4" r="3"/><circle cx="191.4" cy="658.2" r="3"/><circle cx="193.2" cy="660.2" r="3"/><circle cx="205.2" cy="642.6" r="3"/><circle cx="182.7" cy="646.6" r="3"/><circle cx="190.3" cy="644.2" r="3"/><circle cx="187.7" cy="621.3" r="3"/><circle cx="162.7" cy="661.9" r="3"/><circle cx="173.6" cy="647.1" r="3"/><circle cx="173.9" cy="623.8" r="3"/><circle cx="132.9" cy="665.1" r="3"/><circle cx="200.7" cy="658.6" r="3"/><circle cx="182.5" cy="666.0" r="3"/><circle cx="214.9" cy="635.4" r="3"/><circle cx="189.8" cy="639.0" r="3"/><circle cx="151.1" cy="664.9" r="3"/><circle cx="216.3" cy="624.0" r="3"/><circle cx="168.3" cy="653.5" r="3"/><circle cx="161.0" cy="652.3" r="3"/><circle cx="181.9" cy="638.6" r="3"/><circle cx="166.7" cy="632.3" r="3"/><circle cx="186.6" cy="659.1" r="3"/><circle cx="191.6" cy="642.7" r="3"/><circle cx="182.7" cy="648.1" r="3"/><circle cx="202.5" cy="617.0" r="3"/><circle cx="194.4" cy="656.7" r="3"/><circle cx="193.4" cy="617.4" r="3"/><circle cx="125.1" cy="668.5" r="3"/><circle cx="191.6" cy="636.0" r="3"/><circle cx="198.9" cy="613.9" r="3"/><circle cx="152.1" cy="639.2" r="3"/><circle cx="208.3" cy="620.0" r="3"/><circle cx="145.5" cy="635.6" r="3"/><circle cx="162.4" cy="663.5" r="3"/><circle cx="175.5" cy="655.4" r="3"/><circle cx="187.0" cy="623.0" r="3"/><circle cx="202.5" cy="642.4" r="3"/><circle cx="213.4" cy="648.8" r="3"/><circle cx="212.9" cy="616.6" r="3"/><circle cx="191.0" cy="638.4" r="3"/><circle cx="188.2" cy="667.4" r="3"/><circle cx="155.0" cy="661.9" r="3"/><circle cx="182.0" cy="645.4" r="3"/><circle cx="119.6" cy="661.8" r="3"/><circle cx="171.0" cy="659.3" r="3"/><circle cx="206.0" cy="650.4" r="3"/><circle cx="181.3" cy="653.1" r="3"/><circle cx="204.6" cy="647.2" r="3"/><circle cx="229.7" cy="648.3" r="3"/><circle cx="151.6" cy="654.5" r="3"/><circle cx="191.5" cy="653.6" r="3"/><circle cx="201.7" cy="647.0" r="3"/><circle cx="212.9" cy="649.6" r="3"/><circle cx="175.4" cy="647.1" r="3"/><circle cx="184.8" cy="647.8" r="3"/><circle cx="244.7" cy="657.9" r="3"/><circle cx="171.8" cy="643.8" r="3"/><circle cx="196.9" cy="660.3" r="3"/><circle cx="168.0" cy="637.8" r="3"/><circle cx="183.4" cy="643.8" r="3"/><circle cx="181.0" cy="626.2" r="3"/><circle cx="188.1" cy="520.5" r="3"/><circle cx="248.4" cy="522.5" r="3"/><circle cx="182.4" cy="578.4" r="3"/><circle cx="192.6" cy="578.4" r="3"/><circle cx="227.4" cy="578.4" r="3"/><circle cx="165.6" cy="589.0" r="3"/><circle cx="172.0" cy="589.0" r="3"/><circle cx="202.0" cy="589.0" r="3"/><circle cx="202.5" cy="589.5" r="3"/><circle cx="170.0" cy="597.4" r="3"/><circle cx="181.6" cy="597.4" r="3"/><circle cx="192.6" cy="597.4" r="3"/><circle cx="208.0" cy="597.4" r="3"/><circle cx="219.4" cy="597.4" r="3"/><circle cx="225.6" cy="597.4" r="3"/><circle cx="166.6" cy="604.4" r="3"/><circle cx="184.0" cy="604.4" r="3"/><circle cx="194.4" cy="604.4" r="3"/><circle cx="200.4" cy="604.4" r="3"/><circle cx="143.6" cy="610.4" r="3"/><circle cx="231.0" cy="610.0" r="3"/><circle cx="234.4" cy="610.0" r="3"/><circle cx="255.6" cy="615.6" r="3"/><circle cx="265.0" cy="619.6" r="3"/><circle cx="67.4" cy="649.5" r="3"/><circle cx="70.0" cy="662.0" r="3"/><circle cx="71.0" cy="666.0" r="3"/><circle cx="69.5" cy="669.0" r="3"/><circle cx="73.0" cy="670.0" r="3"/><circle cx="75.4" cy="660.2" r="3"/><circle cx="89.1" cy="658.6" r="3"/><circle cx="92.3" cy="664.2" r="3"/><circle cx="97.1" cy="653.0" r="3"/><circle cx="110.0" cy="670.3" r="3"/><circle cx="112.4" cy="653.0" r="3"/><circle cx="117.2" cy="643.4" r="3"/><circle cx="121.2" cy="642.0" r="3"/><circle cx="125.7" cy="646.6" r="3"/><circle cx="150.9" cy="623.3" r="3"/><circle cx="313.0" cy="634.0" r="3"/><circle cx="288.6" cy="631.6" r="3"/><circle cx="271.4" cy="637.6" r="3"/><circle cx="256.0" cy="615.4" r="3"/><circle cx="266.4" cy="619.6" r="3"/><circle cx="259.6" cy="626.4" r="3"/><circle cx="255.6" cy="629.6" r="3"/><circle cx="257.6" cy="637.6" r="3"/><circle cx="259.0" cy="643.6" r="3"/><circle cx="261.0" cy="648.0" r="3"/><circle cx="251.0" cy="652.6" r="3"/><circle cx="263.0" cy="656.6" r="3"/><circle cx="260.4" cy="659.0" r="3"/><circle cx="257.4" cy="666.6" r="3"/><circle cx="292.0" cy="663.0" r="3"/><circle cx="295.6" cy="666.0" r="3"/><circle cx="123.6" cy="631.0" r="3"/><circle cx="124.0" cy="634.0" r="3"/><circle cx="131.0" cy="632.0" r="3"/><circle cx="139.0" cy="633.0" r="3"/><circle cx="143.7" cy="641.0" r="3"/><circle cx="161.4" cy="616.0" r="3"/><circle cx="161.4" cy="619.5" r="3"/><circle cx="166.0" cy="604.0" r="3"/><circle cx="166.0" cy="610.0" r="3"/></g>
<line x1="392.3" y1="664.6" x2="600" y2="656.3" stroke="#ff2a00" stroke-width="1.3"/>
<g fill="none" stroke="#2a4cff" stroke-width="1"><circle cx="486.1" cy="664.3" r="3"/><circle cx="475.3" cy="672.9" r="3"/><circle cx="519.5" cy="668.9" r="3"/><circle cx="497.7" cy="671.7" r="3"/><circle cx="555.2" cy="669.6" r="3"/><circle cx="498.9" cy="670.6" r="3"/><circle cx="501.9" cy="668.4" r="3"/><circle cx="509.4" cy="672.9" r="3"/><circle cx="510.2" cy="668.7" r="3"/><circle cx="523.3" cy="671.6" r="3"/><circle cx="507.1" cy="668.8" r="3"/><circle cx="496.9" cy="672.4" r="3"/><circle cx="490.8" cy="672.9" r="3"/><circle cx="481.0" cy="667.0" r="3"/><circle cx="549.5" cy="671.7" r="3"/><circle cx="509.2" cy="672.3" r="3"/><circle cx="529.0" cy="671.5" r="3"/><circle cx="501.8" cy="672.4" r="3"/><circle cx="502.9" cy="669.2" r="3"/><circle cx="515.5" cy="670.4" r="3"/><circle cx="512.3" cy="672.8" r="3"/><circle cx="525.2" cy="673.2" r="3"/><circle cx="523.5" cy="669.5" r="3"/><circle cx="514.0" cy="672.4" r="3"/><circle cx="504.5" cy="673.0" r="3"/><circle cx="521.5" cy="665.0" r="3"/><circle cx="507.4" cy="667.2" r="3"/><circle cx="527.8" cy="665.2" r="3"/><circle cx="476.9" cy="666.4" r="3"/><circle cx="537.7" cy="668.0" r="3"/><circle cx="502.6" cy="671.1" r="3"/><circle cx="458.6" cy="671.9" r="3"/><circle cx="515.2" cy="672.5" r="3"/><circle cx="521.6" cy="671.8" r="3"/><circle cx="500.2" cy="671.7" r="3"/><circle cx="507.9" cy="665.5" r="3"/><circle cx="508.3" cy="672.5" r="3"/><circle cx="485.8" cy="670.2" r="3"/><circle cx="533.7" cy="668.7" r="3"/><circle cx="479.0" cy="672.9" r="3"/><circle cx="490.2" cy="665.3" r="3"/><circle cx="445.6" cy="671.8" r="3"/><circle cx="516.4" cy="668.7" r="3"/><circle cx="485.2" cy="671.5" r="3"/><circle cx="537.5" cy="669.5" r="3"/><circle cx="463.7" cy="669.3" r="3"/><circle cx="535.0" cy="671.9" r="3"/><circle cx="449.1" cy="667.3" r="3"/><circle cx="495.4" cy="668.7" r="3"/><circle cx="499.0" cy="671.8" r="3"/><circle cx="489.6" cy="667.3" r="3"/><circle cx="533.0" cy="664.5" r="3"/><circle cx="478.5" cy="666.0" r="3"/><circle cx="491.6" cy="667.7" r="3"/><circle cx="500.1" cy="672.9" r="3"/><circle cx="497.8" cy="671.3" r="3"/><circle cx="492.9" cy="671.4" r="3"/><circle cx="507.7" cy="670.0" r="3"/><circle cx="493.3" cy="672.7" r="3"/><circle cx="530.0" cy="671.8" r="3"/><circle cx="497.5" cy="671.1" r="3"/><circle cx="509.3" cy="668.8" r="3"/><circle cx="511.6" cy="665.9" r="3"/><circle cx="530.9" cy="673.1" r="3"/><circle cx="490.5" cy="669.7" r="3"/><circle cx="511.9" cy="672.9" r="3"/><circle cx="466.0" cy="665.8" r="3"/><circle cx="508.0" cy="670.1" r="3"/><circle cx="518.5" cy="668.0" r="3"/><circle cx="523.9" cy="671.1" r="3"/><circle cx="508.9" cy="671.6" r="3"/><circle cx="481.5" cy="670.9" r="3"/><circle cx="452.3" cy="669.5" r="3"/><circle cx="458.5" cy="671.5" r="3"/><circle cx="501.4" cy="669.5" r="3"/><circle cx="508.2" cy="670.7" r="3"/><circle cx="508.0" cy="671.7" r="3"/><circle cx="514.0" cy="672.0" r="3"/><circle cx="477.3" cy="673.3" r="3"/><circle cx="501.3" cy="672.0" r="3"/><circle cx="520.6" cy="666.3" r="3"/><circle cx="491.5" cy="671.9" r="3"/><circle cx="448.3" cy="672.8" r="3"/><circle cx="490.0" cy="664.4" r="3"/><circle cx="506.6" cy="670.9" r="3"/><circle cx="483.1" cy="671.8" r="3"/><circle cx="477.8" cy="670.2" r="3"/><circle cx="465.1" cy="672.0" r="3"/><circle cx="544.9" cy="673.1" r="3"/><circle cx="510.8" cy="672.7" r="3"/><circle cx="473.0" cy="673.2" r="3"/><circle cx="509.3" cy="669.1" r="3"/><circle cx="507.9" cy="668.2" r="3"/><circle cx="524.6" cy="666.8" r="3"/><circle cx="477.6" cy="666.7" r="3"/><circle cx="524.6" cy="670.8" r="3"/><circle cx="516.2" cy="669.7" r="3"/><circle cx="473.2" cy="673.0" r="3"/><circle cx="502.3" cy="669.8" r="3"/><circle cx="503.3" cy="670.7" r="3"/><circle cx="505.2" cy="669.0" r="3"/><circle cx="451.4" cy="672.2" r="3"/><circle cx="503.8" cy="672.2" r="3"/><circle cx="490.1" cy="670.5" r="3"/><circle cx="516.5" cy="673.1" r="3"/><circle cx="502.8" cy="669.3" r="3"/><circle cx="485.7" cy="672.6" r="3"/><circle cx="476.9" cy="668.1" r="3"/><circle cx="492.4" cy="668.4" r="3"/><circle cx="504.4" cy="667.3" r="3"/><circle cx="497.0" cy="672.0" r="3"/><circle cx="468.0" cy="670.9" r="3"/><circle cx="533.0" cy="672.0" r="3"/><circle cx="516.9" cy="670.4" r="3"/><circle cx="499.8" cy="672.5" r="3"/><circle cx="502.7" cy="670.5" r="3"/><circle cx="510.5" cy="671.3" r="3"/><circle cx="503.5" cy="670.1" r="3"/><circle cx="494.0" cy="669.4" r="3"/><circle cx="523.1" cy="664.7" r="3"/><circle cx="495.0" cy="663.5" r="3"/><circle cx="492.1" cy="668.6" r="3"/><circle cx="499.6" cy="668.0" r="3"/><circle cx="496.3" cy="670.8" r="3"/><circle cx="502.3" cy="671.8" r="3"/><circle cx="572.5" cy="673.0" r="3"/><circle cx="487.6" cy="671.3" r="3"/><circle cx="508.8" cy="671.6" r="3"/><circle cx="517.8" cy="672.7" r="3"/><circle cx="467.1" cy="671.1" r="3"/><circle cx="492.9" cy="672.1" r="3"/><circle cx="465.9" cy="670.9" r="3"/><circle cx="483.3" cy="673.2" r="3"/><circle cx="466.6" cy="673.1" r="3"/><circle cx="502.9" cy="668.7" r="3"/><circle cx="485.6" cy="669.8" r="3"/><circle cx="520.9" cy="662.9" r="3"/><circle cx="492.1" cy="666.5" r="3"/><circle cx="490.1" cy="669.8" r="3"/><circle cx="485.5" cy="672.7" r="3"/><circle cx="480.6" cy="665.3" r="3"/><circle cx="521.0" cy="668.7" r="3"/><circle cx="469.5" cy="668.8" r="3"/><circle cx="524.8" cy="672.5" r="3"/><circle cx="494.1" cy="671.9" r="3"/><circle cx="474.7" cy="655.8" r="3"/><circle cx="499.8" cy="662.1" r="3"/><circle cx="523.5" cy="646.4" r="3"/><circle cx="459.3" cy="663.0" r="3"/><circle cx="536.4" cy="663.3" r="3"/><circle cx="509.5" cy="653.2" r="3"/><circle cx="503.7" cy="644.0" r="3"/><circle cx="511.1" cy="655.2" r="3"/><circle cx="507.5" cy="645.3" r="3"/><circle cx="462.2" cy="664.0" r="3"/><circle cx="525.6" cy="638.4" r="3"/><circle cx="506.7" cy="663.9" r="3"/><circle cx="547.6" cy="662.9" r="3"/><circle cx="487.7" cy="657.3" r="3"/><circle cx="543.1" cy="653.3" r="3"/><circle cx="489.8" cy="663.8" r="3"/><circle cx="517.0" cy="649.0" r="3"/><circle cx="528.9" cy="651.2" r="3"/><circle cx="502.9" cy="643.2" r="3"/><circle cx="538.6" cy="649.9" r="3"/><circle cx="485.8" cy="666.9" r="3"/><circle cx="508.0" cy="656.3" r="3"/><circle cx="511.2" cy="665.5" r="3"/><circle cx="502.1" cy="644.7" r="3"/><circle cx="521.3" cy="660.4" r="3"/><circle cx="505.4" cy="656.7" r="3"/><circle cx="515.0" cy="656.1" r="3"/><circle cx="548.0" cy="656.8" r="3"/><circle cx="481.5" cy="649.2" r="3"/><circle cx="475.4" cy="655.6" r="3"/><circle cx="515.0" cy="656.6" r="3"/><circle cx="537.1" cy="649.6" r="3"/><circle cx="518.5" cy="627.9" r="3"/><circle cx="478.2" cy="651.6" r="3"/><circle cx="501.1" cy="647.2" r="3"/><circle cx="474.9" cy="665.1" r="3"/><circle cx="510.4" cy="614.2" r="3"/><circle cx="499.8" cy="640.2" r="3"/><circle cx="540.8" cy="643.0" r="3"/><circle cx="471.3" cy="665.4" r="3"/><circle cx="516.0" cy="619.7" r="3"/><circle cx="515.6" cy="625.9" r="3"/><circle cx="507.9" cy="637.1" r="3"/><circle cx="524.6" cy="656.8" r="3"/><circle cx="479.1" cy="662.0" r="3"/><circle cx="521.7" cy="629.7" r="3"/><circle cx="500.2" cy="660.8" r="3"/><circle cx="505.1" cy="642.8" r="3"/><circle cx="496.9" cy="650.1" r="3"/><circle cx="528.1" cy="654.5" r="3"/><circle cx="541.6" cy="643.4" r="3"/><circle cx="529.4" cy="645.0" r="3"/><circle cx="543.6" cy="651.6" r="3"/><circle cx="485.6" cy="661.2" r="3"/><circle cx="549.9" cy="663.8" r="3"/><circle cx="514.3" cy="661.0" r="3"/><circle cx="493.3" cy="642.5" r="3"/><circle cx="501.2" cy="650.8" r="3"/><circle cx="485.4" cy="656.8" r="3"/><circle cx="493.3" cy="635.2" r="3"/><circle cx="492.1" cy="644.1" r="3"/><circle cx="518.9" cy="638.1" r="3"/><circle cx="515.4" cy="660.8" r="3"/><circle cx="529.9" cy="653.5" r="3"/><circle cx="508.8" cy="654.7" r="3"/><circle cx="509.9" cy="666.6" r="3"/><circle cx="484.9" cy="651.9" r="3"/><circle cx="517.4" cy="622.6" r="3"/><circle cx="498.1" cy="650.4" r="3"/><circle cx="464.0" cy="657.2" r="3"/><circle cx="556.2" cy="666.3" r="3"/><circle cx="533.9" cy="665.3" r="3"/><circle cx="540.1" cy="647.3" r="3"/><circle cx="518.3" cy="655.0" r="3"/><circle cx="480.2" cy="658.2" r="3"/><circle cx="497.7" cy="647.0" r="3"/><circle cx="507.2" cy="646.0" r="3"/><circle cx="542.8" cy="642.9" r="3"/><circle cx="513.1" cy="646.5" r="3"/><circle cx="498.5" cy="638.2" r="3"/><circle cx="514.0" cy="637.6" r="3"/><circle cx="515.1" cy="630.2" r="3"/><circle cx="506.3" cy="635.4" r="3"/><circle cx="522.3" cy="632.0" r="3"/><circle cx="481.5" cy="652.4" r="3"/><circle cx="510.2" cy="647.8" r="3"/><circle cx="516.7" cy="646.2" r="3"/><circle cx="473.4" cy="661.1" r="3"/><circle cx="517.0" cy="660.0" r="3"/><circle cx="541.0" cy="656.1" r="3"/><circle cx="490.3" cy="666.4" r="3"/><circle cx="522.8" cy="651.0" r="3"/><circle cx="523.9" cy="627.1" r="3"/><circle cx="538.5" cy="659.7" r="3"/><circle cx="464.3" cy="658.8" r="3"/><circle cx="535.6" cy="647.2" r="3"/><circle cx="466.7" cy="653.7" r="3"/><circle cx="515.0" cy="644.9" r="3"/><circle cx="498.6" cy="660.6" r="3"/><circle cx="548.7" cy="662.0" r="3"/><circle cx="420.0" cy="592.0" r="3"/><circle cx="474.6" cy="592.0" r="3"/><circle cx="476.0" cy="600.0" r="3"/><circle cx="499.0" cy="600.0" r="3"/><circle cx="461.4" cy="631.0" r="3"/><circle cx="441.6" cy="651.4" r="3"/><circle cx="392.6" cy="666.4" r="3"/><circle cx="403.0" cy="668.0" r="3"/><circle cx="408.6" cy="670.6" r="3"/><circle cx="434.0" cy="667.6" r="3"/><circle cx="529.6" cy="606.6" r="3"/><circle cx="541.4" cy="606.6" r="3"/><circle cx="524.4" cy="612.4" r="3"/><circle cx="531.2" cy="617.2" r="3"/><circle cx="580.4" cy="628.0" r="3"/><circle cx="544.6" cy="633.2" r="3"/><circle cx="533.6" cy="628.0" r="3"/><circle cx="538.0" cy="625.0" r="3"/><circle cx="570.0" cy="652.0" r="3"/><circle cx="599.4" cy="650.6" r="3"/><circle cx="554.4" cy="657.6" r="3"/><circle cx="538.0" cy="656.0" r="3"/><circle cx="579.0" cy="665.0" r="3"/><circle cx="582.0" cy="669.0" r="3"/><circle cx="581.0" cy="672.0" r="3"/><circle cx="594.4" cy="670.0" r="3"/><circle cx="545.5" cy="539.6" r="3"/><circle cx="461.0" cy="631.0" r="3"/><circle cx="434.0" cy="667.8" r="3"/><circle cx="488.5" cy="624.0" r="3"/><circle cx="494.8" cy="625.6" r="3"/><circle cx="500.5" cy="624.8" r="3"/><circle cx="510.5" cy="625.0" r="3"/><circle cx="516.0" cy="622.0" r="3"/><circle cx="521.0" cy="620.5" r="3"/><circle cx="540.0" cy="620.0" r="3"/><circle cx="533.0" cy="626.0" r="3"/></g>
</svg></body></html>
